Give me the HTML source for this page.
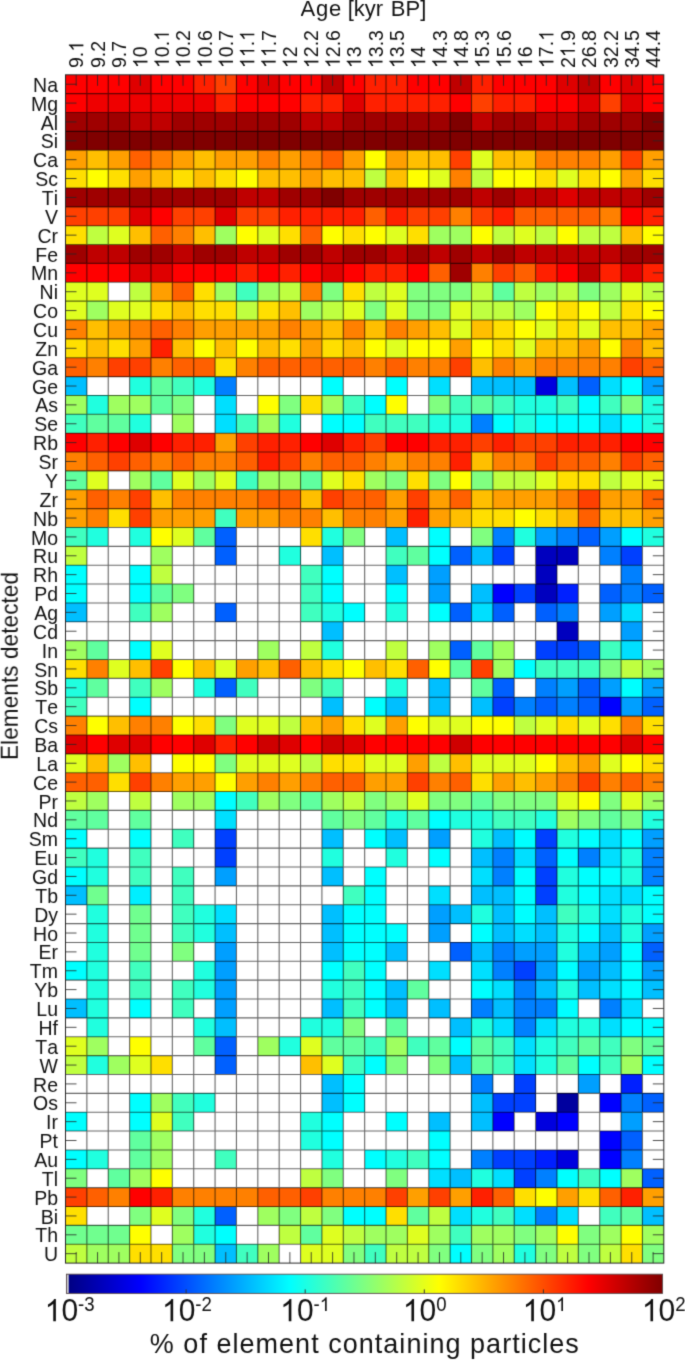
<!DOCTYPE html><html><head><meta charset="utf-8"><style>html,body{margin:0;padding:0;background:#fff;overflow:hidden}svg{display:block;will-change:transform}text{font-family:"Liberation Sans", sans-serif;fill:#111;font-kerning:none}</style></head><body>
<svg width="685" height="1360" viewBox="0 0 685 1360">
<defs><filter id="bl" x="0" y="0" width="685" height="1360" filterUnits="userSpaceOnUse" color-interpolation-filters="sRGB"><feConvolveMatrix order="3" kernelMatrix="0.01917 0.10012 0.01917 0.10012 0.52283 0.10012 0.01917 0.10012 0.01917" edgeMode="duplicate"/></filter></defs>
<rect x="0" y="0" width="685" height="1360" fill="#fff"/>
<g filter="url(#bl)">
<g shape-rendering="crispEdges"><rect x="65.50" y="74.80" width="21.42" height="18.91" fill="#ff0000"/><rect x="86.87" y="74.80" width="21.42" height="18.91" fill="#ff0000"/><rect x="108.24" y="74.80" width="21.42" height="18.91" fill="#ff0000"/><rect x="129.60" y="74.80" width="21.42" height="18.91" fill="#df0000"/><rect x="150.97" y="74.80" width="21.42" height="18.91" fill="#ff0000"/><rect x="172.34" y="74.80" width="21.42" height="18.91" fill="#ff0000"/><rect x="193.71" y="74.80" width="21.42" height="18.91" fill="#ff2000"/><rect x="215.07" y="74.80" width="21.42" height="18.91" fill="#ff4000"/><rect x="236.44" y="74.80" width="21.42" height="18.91" fill="#ff0000"/><rect x="257.81" y="74.80" width="21.42" height="18.91" fill="#df0000"/><rect x="279.18" y="74.80" width="21.42" height="18.91" fill="#ff0000"/><rect x="300.55" y="74.80" width="21.42" height="18.91" fill="#ff0000"/><rect x="321.91" y="74.80" width="21.42" height="18.91" fill="#bf0000"/><rect x="343.28" y="74.80" width="21.42" height="18.91" fill="#ff0000"/><rect x="364.65" y="74.80" width="21.42" height="18.91" fill="#ff2000"/><rect x="386.02" y="74.80" width="21.42" height="18.91" fill="#ff2000"/><rect x="407.39" y="74.80" width="21.42" height="18.91" fill="#ff0000"/><rect x="428.75" y="74.80" width="21.42" height="18.91" fill="#ff0000"/><rect x="450.12" y="74.80" width="21.42" height="18.91" fill="#bf0000"/><rect x="471.49" y="74.80" width="21.42" height="18.91" fill="#ff2000"/><rect x="492.86" y="74.80" width="21.42" height="18.91" fill="#ff0000"/><rect x="514.22" y="74.80" width="21.42" height="18.91" fill="#ff0000"/><rect x="535.59" y="74.80" width="21.42" height="18.91" fill="#ff0000"/><rect x="556.96" y="74.80" width="21.42" height="18.91" fill="#df0000"/><rect x="578.33" y="74.80" width="21.42" height="18.91" fill="#bf0000"/><rect x="599.70" y="74.80" width="21.42" height="18.91" fill="#ff0000"/><rect x="621.06" y="74.80" width="21.42" height="18.91" fill="#df0000"/><rect x="642.43" y="74.80" width="21.42" height="18.91" fill="#ff0000"/><rect x="65.50" y="93.66" width="21.42" height="18.91" fill="#ff0000"/><rect x="86.87" y="93.66" width="21.42" height="18.91" fill="#ef0000"/><rect x="108.24" y="93.66" width="21.42" height="18.91" fill="#ef0000"/><rect x="129.60" y="93.66" width="21.42" height="18.91" fill="#ef0000"/><rect x="150.97" y="93.66" width="21.42" height="18.91" fill="#ef0000"/><rect x="172.34" y="93.66" width="21.42" height="18.91" fill="#ef0000"/><rect x="193.71" y="93.66" width="21.42" height="18.91" fill="#ef0000"/><rect x="215.07" y="93.66" width="21.42" height="18.91" fill="#ff2000"/><rect x="236.44" y="93.66" width="21.42" height="18.91" fill="#ff0000"/><rect x="257.81" y="93.66" width="21.42" height="18.91" fill="#ff0000"/><rect x="279.18" y="93.66" width="21.42" height="18.91" fill="#ff0000"/><rect x="300.55" y="93.66" width="21.42" height="18.91" fill="#ff2000"/><rect x="321.91" y="93.66" width="21.42" height="18.91" fill="#ff2000"/><rect x="343.28" y="93.66" width="21.42" height="18.91" fill="#df0000"/><rect x="364.65" y="93.66" width="21.42" height="18.91" fill="#ff2000"/><rect x="386.02" y="93.66" width="21.42" height="18.91" fill="#ff2000"/><rect x="407.39" y="93.66" width="21.42" height="18.91" fill="#ff2000"/><rect x="428.75" y="93.66" width="21.42" height="18.91" fill="#ff2000"/><rect x="450.12" y="93.66" width="21.42" height="18.91" fill="#ff0000"/><rect x="471.49" y="93.66" width="21.42" height="18.91" fill="#ff4000"/><rect x="492.86" y="93.66" width="21.42" height="18.91" fill="#ff2000"/><rect x="514.22" y="93.66" width="21.42" height="18.91" fill="#ff2000"/><rect x="535.59" y="93.66" width="21.42" height="18.91" fill="#ff0000"/><rect x="556.96" y="93.66" width="21.42" height="18.91" fill="#ff0000"/><rect x="578.33" y="93.66" width="21.42" height="18.91" fill="#df0000"/><rect x="599.70" y="93.66" width="21.42" height="18.91" fill="#ff4000"/><rect x="621.06" y="93.66" width="21.42" height="18.91" fill="#df0000"/><rect x="642.43" y="93.66" width="21.42" height="18.91" fill="#ff0000"/><rect x="65.50" y="112.52" width="21.42" height="18.91" fill="#9f0000"/><rect x="86.87" y="112.52" width="21.42" height="18.91" fill="#9f0000"/><rect x="108.24" y="112.52" width="21.42" height="18.91" fill="#9f0000"/><rect x="129.60" y="112.52" width="21.42" height="18.91" fill="#bf0000"/><rect x="150.97" y="112.52" width="21.42" height="18.91" fill="#bf0000"/><rect x="172.34" y="112.52" width="21.42" height="18.91" fill="#9f0000"/><rect x="193.71" y="112.52" width="21.42" height="18.91" fill="#9f0000"/><rect x="215.07" y="112.52" width="21.42" height="18.91" fill="#9f0000"/><rect x="236.44" y="112.52" width="21.42" height="18.91" fill="#9f0000"/><rect x="257.81" y="112.52" width="21.42" height="18.91" fill="#9f0000"/><rect x="279.18" y="112.52" width="21.42" height="18.91" fill="#9f0000"/><rect x="300.55" y="112.52" width="21.42" height="18.91" fill="#bf0000"/><rect x="321.91" y="112.52" width="21.42" height="18.91" fill="#bf0000"/><rect x="343.28" y="112.52" width="21.42" height="18.91" fill="#9f0000"/><rect x="364.65" y="112.52" width="21.42" height="18.91" fill="#9f0000"/><rect x="386.02" y="112.52" width="21.42" height="18.91" fill="#9f0000"/><rect x="407.39" y="112.52" width="21.42" height="18.91" fill="#9f0000"/><rect x="428.75" y="112.52" width="21.42" height="18.91" fill="#9f0000"/><rect x="450.12" y="112.52" width="21.42" height="18.91" fill="#800000"/><rect x="471.49" y="112.52" width="21.42" height="18.91" fill="#bf0000"/><rect x="492.86" y="112.52" width="21.42" height="18.91" fill="#9f0000"/><rect x="514.22" y="112.52" width="21.42" height="18.91" fill="#9f0000"/><rect x="535.59" y="112.52" width="21.42" height="18.91" fill="#bf0000"/><rect x="556.96" y="112.52" width="21.42" height="18.91" fill="#bf0000"/><rect x="578.33" y="112.52" width="21.42" height="18.91" fill="#9f0000"/><rect x="599.70" y="112.52" width="21.42" height="18.91" fill="#9f0000"/><rect x="621.06" y="112.52" width="21.42" height="18.91" fill="#9f0000"/><rect x="642.43" y="112.52" width="21.42" height="18.91" fill="#800000"/><rect x="65.50" y="131.39" width="21.42" height="18.91" fill="#800000"/><rect x="86.87" y="131.39" width="21.42" height="18.91" fill="#800000"/><rect x="108.24" y="131.39" width="21.42" height="18.91" fill="#800000"/><rect x="129.60" y="131.39" width="21.42" height="18.91" fill="#800000"/><rect x="150.97" y="131.39" width="21.42" height="18.91" fill="#800000"/><rect x="172.34" y="131.39" width="21.42" height="18.91" fill="#800000"/><rect x="193.71" y="131.39" width="21.42" height="18.91" fill="#800000"/><rect x="215.07" y="131.39" width="21.42" height="18.91" fill="#800000"/><rect x="236.44" y="131.39" width="21.42" height="18.91" fill="#800000"/><rect x="257.81" y="131.39" width="21.42" height="18.91" fill="#800000"/><rect x="279.18" y="131.39" width="21.42" height="18.91" fill="#800000"/><rect x="300.55" y="131.39" width="21.42" height="18.91" fill="#800000"/><rect x="321.91" y="131.39" width="21.42" height="18.91" fill="#800000"/><rect x="343.28" y="131.39" width="21.42" height="18.91" fill="#800000"/><rect x="364.65" y="131.39" width="21.42" height="18.91" fill="#800000"/><rect x="386.02" y="131.39" width="21.42" height="18.91" fill="#800000"/><rect x="407.39" y="131.39" width="21.42" height="18.91" fill="#800000"/><rect x="428.75" y="131.39" width="21.42" height="18.91" fill="#800000"/><rect x="450.12" y="131.39" width="21.42" height="18.91" fill="#800000"/><rect x="471.49" y="131.39" width="21.42" height="18.91" fill="#800000"/><rect x="492.86" y="131.39" width="21.42" height="18.91" fill="#800000"/><rect x="514.22" y="131.39" width="21.42" height="18.91" fill="#800000"/><rect x="535.59" y="131.39" width="21.42" height="18.91" fill="#800000"/><rect x="556.96" y="131.39" width="21.42" height="18.91" fill="#800000"/><rect x="578.33" y="131.39" width="21.42" height="18.91" fill="#800000"/><rect x="599.70" y="131.39" width="21.42" height="18.91" fill="#800000"/><rect x="621.06" y="131.39" width="21.42" height="18.91" fill="#800000"/><rect x="642.43" y="131.39" width="21.42" height="18.91" fill="#800000"/><rect x="65.50" y="150.25" width="21.42" height="18.91" fill="#ff9f00"/><rect x="86.87" y="150.25" width="21.42" height="18.91" fill="#ffbf00"/><rect x="108.24" y="150.25" width="21.42" height="18.91" fill="#ff9f00"/><rect x="129.60" y="150.25" width="21.42" height="18.91" fill="#ff6000"/><rect x="150.97" y="150.25" width="21.42" height="18.91" fill="#ff8000"/><rect x="172.34" y="150.25" width="21.42" height="18.91" fill="#ff9f00"/><rect x="193.71" y="150.25" width="21.42" height="18.91" fill="#ffbf00"/><rect x="215.07" y="150.25" width="21.42" height="18.91" fill="#ff9f00"/><rect x="236.44" y="150.25" width="21.42" height="18.91" fill="#ff9f00"/><rect x="257.81" y="150.25" width="21.42" height="18.91" fill="#ff8000"/><rect x="279.18" y="150.25" width="21.42" height="18.91" fill="#ff9f00"/><rect x="300.55" y="150.25" width="21.42" height="18.91" fill="#ff8000"/><rect x="321.91" y="150.25" width="21.42" height="18.91" fill="#ff6000"/><rect x="343.28" y="150.25" width="21.42" height="18.91" fill="#ff9f00"/><rect x="364.65" y="150.25" width="21.42" height="18.91" fill="#ffff00"/><rect x="386.02" y="150.25" width="21.42" height="18.91" fill="#ff9f00"/><rect x="407.39" y="150.25" width="21.42" height="18.91" fill="#ffbf00"/><rect x="428.75" y="150.25" width="21.42" height="18.91" fill="#ffbf00"/><rect x="450.12" y="150.25" width="21.42" height="18.91" fill="#ff4000"/><rect x="471.49" y="150.25" width="21.42" height="18.91" fill="#dfff20"/><rect x="492.86" y="150.25" width="21.42" height="18.91" fill="#ffbf00"/><rect x="514.22" y="150.25" width="21.42" height="18.91" fill="#ffbf00"/><rect x="535.59" y="150.25" width="21.42" height="18.91" fill="#ff8000"/><rect x="556.96" y="150.25" width="21.42" height="18.91" fill="#ff8000"/><rect x="578.33" y="150.25" width="21.42" height="18.91" fill="#ff8000"/><rect x="599.70" y="150.25" width="21.42" height="18.91" fill="#ff9f00"/><rect x="621.06" y="150.25" width="21.42" height="18.91" fill="#ff4000"/><rect x="642.43" y="150.25" width="21.42" height="18.91" fill="#ff9f00"/><rect x="65.50" y="169.11" width="21.42" height="18.91" fill="#ffdf00"/><rect x="86.87" y="169.11" width="21.42" height="18.91" fill="#ffff00"/><rect x="108.24" y="169.11" width="21.42" height="18.91" fill="#ffdf00"/><rect x="129.60" y="169.11" width="21.42" height="18.91" fill="#ff9f00"/><rect x="150.97" y="169.11" width="21.42" height="18.91" fill="#ffbf00"/><rect x="172.34" y="169.11" width="21.42" height="18.91" fill="#ffdf00"/><rect x="193.71" y="169.11" width="21.42" height="18.91" fill="#ffbf00"/><rect x="215.07" y="169.11" width="21.42" height="18.91" fill="#ffdf00"/><rect x="236.44" y="169.11" width="21.42" height="18.91" fill="#ffff00"/><rect x="257.81" y="169.11" width="21.42" height="18.91" fill="#ffbf00"/><rect x="279.18" y="169.11" width="21.42" height="18.91" fill="#ffbf00"/><rect x="300.55" y="169.11" width="21.42" height="18.91" fill="#ff9f00"/><rect x="321.91" y="169.11" width="21.42" height="18.91" fill="#ffbf00"/><rect x="343.28" y="169.11" width="21.42" height="18.91" fill="#ffbf00"/><rect x="364.65" y="169.11" width="21.42" height="18.91" fill="#bfff40"/><rect x="386.02" y="169.11" width="21.42" height="18.91" fill="#ffbf00"/><rect x="407.39" y="169.11" width="21.42" height="18.91" fill="#ffff00"/><rect x="428.75" y="169.11" width="21.42" height="18.91" fill="#dfff20"/><rect x="450.12" y="169.11" width="21.42" height="18.91" fill="#ff8000"/><rect x="471.49" y="169.11" width="21.42" height="18.91" fill="#bfff40"/><rect x="492.86" y="169.11" width="21.42" height="18.91" fill="#ffff00"/><rect x="514.22" y="169.11" width="21.42" height="18.91" fill="#ffff00"/><rect x="535.59" y="169.11" width="21.42" height="18.91" fill="#ffdf00"/><rect x="556.96" y="169.11" width="21.42" height="18.91" fill="#dfff20"/><rect x="578.33" y="169.11" width="21.42" height="18.91" fill="#ffdf00"/><rect x="599.70" y="169.11" width="21.42" height="18.91" fill="#ffff00"/><rect x="621.06" y="169.11" width="21.42" height="18.91" fill="#ff9f00"/><rect x="642.43" y="169.11" width="21.42" height="18.91" fill="#ffdf00"/><rect x="65.50" y="187.97" width="21.42" height="18.91" fill="#9f0000"/><rect x="86.87" y="187.97" width="21.42" height="18.91" fill="#9f0000"/><rect x="108.24" y="187.97" width="21.42" height="18.91" fill="#9f0000"/><rect x="129.60" y="187.97" width="21.42" height="18.91" fill="#9f0000"/><rect x="150.97" y="187.97" width="21.42" height="18.91" fill="#9f0000"/><rect x="172.34" y="187.97" width="21.42" height="18.91" fill="#9f0000"/><rect x="193.71" y="187.97" width="21.42" height="18.91" fill="#9f0000"/><rect x="215.07" y="187.97" width="21.42" height="18.91" fill="#9f0000"/><rect x="236.44" y="187.97" width="21.42" height="18.91" fill="#bf0000"/><rect x="257.81" y="187.97" width="21.42" height="18.91" fill="#bf0000"/><rect x="279.18" y="187.97" width="21.42" height="18.91" fill="#9f0000"/><rect x="300.55" y="187.97" width="21.42" height="18.91" fill="#9f0000"/><rect x="321.91" y="187.97" width="21.42" height="18.91" fill="#800000"/><rect x="343.28" y="187.97" width="21.42" height="18.91" fill="#9f0000"/><rect x="364.65" y="187.97" width="21.42" height="18.91" fill="#9f0000"/><rect x="386.02" y="187.97" width="21.42" height="18.91" fill="#9f0000"/><rect x="407.39" y="187.97" width="21.42" height="18.91" fill="#9f0000"/><rect x="428.75" y="187.97" width="21.42" height="18.91" fill="#9f0000"/><rect x="450.12" y="187.97" width="21.42" height="18.91" fill="#9f0000"/><rect x="471.49" y="187.97" width="21.42" height="18.91" fill="#bf0000"/><rect x="492.86" y="187.97" width="21.42" height="18.91" fill="#9f0000"/><rect x="514.22" y="187.97" width="21.42" height="18.91" fill="#bf0000"/><rect x="535.59" y="187.97" width="21.42" height="18.91" fill="#bf0000"/><rect x="556.96" y="187.97" width="21.42" height="18.91" fill="#df0000"/><rect x="578.33" y="187.97" width="21.42" height="18.91" fill="#bf0000"/><rect x="599.70" y="187.97" width="21.42" height="18.91" fill="#bf0000"/><rect x="621.06" y="187.97" width="21.42" height="18.91" fill="#bf0000"/><rect x="642.43" y="187.97" width="21.42" height="18.91" fill="#9f0000"/><rect x="65.50" y="206.83" width="21.42" height="18.91" fill="#ff4000"/><rect x="86.87" y="206.83" width="21.42" height="18.91" fill="#ff4000"/><rect x="108.24" y="206.83" width="21.42" height="18.91" fill="#ff4000"/><rect x="129.60" y="206.83" width="21.42" height="18.91" fill="#df0000"/><rect x="150.97" y="206.83" width="21.42" height="18.91" fill="#ff0000"/><rect x="172.34" y="206.83" width="21.42" height="18.91" fill="#ff4000"/><rect x="193.71" y="206.83" width="21.42" height="18.91" fill="#ff4000"/><rect x="215.07" y="206.83" width="21.42" height="18.91" fill="#df0000"/><rect x="236.44" y="206.83" width="21.42" height="18.91" fill="#ff4000"/><rect x="257.81" y="206.83" width="21.42" height="18.91" fill="#ff4000"/><rect x="279.18" y="206.83" width="21.42" height="18.91" fill="#ff2000"/><rect x="300.55" y="206.83" width="21.42" height="18.91" fill="#ff2000"/><rect x="321.91" y="206.83" width="21.42" height="18.91" fill="#ff2000"/><rect x="343.28" y="206.83" width="21.42" height="18.91" fill="#ff2000"/><rect x="364.65" y="206.83" width="21.42" height="18.91" fill="#ff6000"/><rect x="386.02" y="206.83" width="21.42" height="18.91" fill="#ff2000"/><rect x="407.39" y="206.83" width="21.42" height="18.91" fill="#ff4000"/><rect x="428.75" y="206.83" width="21.42" height="18.91" fill="#ff4000"/><rect x="450.12" y="206.83" width="21.42" height="18.91" fill="#ff8000"/><rect x="471.49" y="206.83" width="21.42" height="18.91" fill="#ff4000"/><rect x="492.86" y="206.83" width="21.42" height="18.91" fill="#ff2000"/><rect x="514.22" y="206.83" width="21.42" height="18.91" fill="#ff6000"/><rect x="535.59" y="206.83" width="21.42" height="18.91" fill="#ff6000"/><rect x="556.96" y="206.83" width="21.42" height="18.91" fill="#ff6000"/><rect x="578.33" y="206.83" width="21.42" height="18.91" fill="#ff6000"/><rect x="599.70" y="206.83" width="21.42" height="18.91" fill="#ff8000"/><rect x="621.06" y="206.83" width="21.42" height="18.91" fill="#ff0000"/><rect x="642.43" y="206.83" width="21.42" height="18.91" fill="#ff2000"/><rect x="65.50" y="225.70" width="21.42" height="18.91" fill="#ffdf00"/><rect x="86.87" y="225.70" width="21.42" height="18.91" fill="#bfff40"/><rect x="108.24" y="225.70" width="21.42" height="18.91" fill="#dfff20"/><rect x="129.60" y="225.70" width="21.42" height="18.91" fill="#ffbf00"/><rect x="150.97" y="225.70" width="21.42" height="18.91" fill="#ff6000"/><rect x="172.34" y="225.70" width="21.42" height="18.91" fill="#ff8000"/><rect x="193.71" y="225.70" width="21.42" height="18.91" fill="#ffbf00"/><rect x="215.07" y="225.70" width="21.42" height="18.91" fill="#9fff60"/><rect x="236.44" y="225.70" width="21.42" height="18.91" fill="#ffff00"/><rect x="257.81" y="225.70" width="21.42" height="18.91" fill="#dfff20"/><rect x="279.18" y="225.70" width="21.42" height="18.91" fill="#ffdf00"/><rect x="300.55" y="225.70" width="21.42" height="18.91" fill="#ff6000"/><rect x="321.91" y="225.70" width="21.42" height="18.91" fill="#ffff00"/><rect x="343.28" y="225.70" width="21.42" height="18.91" fill="#ffdf00"/><rect x="364.65" y="225.70" width="21.42" height="18.91" fill="#ffff00"/><rect x="386.02" y="225.70" width="21.42" height="18.91" fill="#dfff20"/><rect x="407.39" y="225.70" width="21.42" height="18.91" fill="#ffdf00"/><rect x="428.75" y="225.70" width="21.42" height="18.91" fill="#9fff60"/><rect x="450.12" y="225.70" width="21.42" height="18.91" fill="#9fff60"/><rect x="471.49" y="225.70" width="21.42" height="18.91" fill="#ffff00"/><rect x="492.86" y="225.70" width="21.42" height="18.91" fill="#bfff40"/><rect x="514.22" y="225.70" width="21.42" height="18.91" fill="#dfff20"/><rect x="535.59" y="225.70" width="21.42" height="18.91" fill="#bfff40"/><rect x="556.96" y="225.70" width="21.42" height="18.91" fill="#ffff00"/><rect x="578.33" y="225.70" width="21.42" height="18.91" fill="#bfff40"/><rect x="599.70" y="225.70" width="21.42" height="18.91" fill="#bfff40"/><rect x="621.06" y="225.70" width="21.42" height="18.91" fill="#ffbf00"/><rect x="642.43" y="225.70" width="21.42" height="18.91" fill="#ffff00"/><rect x="65.50" y="244.56" width="21.42" height="18.91" fill="#9f0000"/><rect x="86.87" y="244.56" width="21.42" height="18.91" fill="#bf0000"/><rect x="108.24" y="244.56" width="21.42" height="18.91" fill="#bf0000"/><rect x="129.60" y="244.56" width="21.42" height="18.91" fill="#9f0000"/><rect x="150.97" y="244.56" width="21.42" height="18.91" fill="#9f0000"/><rect x="172.34" y="244.56" width="21.42" height="18.91" fill="#bf0000"/><rect x="193.71" y="244.56" width="21.42" height="18.91" fill="#9f0000"/><rect x="215.07" y="244.56" width="21.42" height="18.91" fill="#9f0000"/><rect x="236.44" y="244.56" width="21.42" height="18.91" fill="#bf0000"/><rect x="257.81" y="244.56" width="21.42" height="18.91" fill="#bf0000"/><rect x="279.18" y="244.56" width="21.42" height="18.91" fill="#9f0000"/><rect x="300.55" y="244.56" width="21.42" height="18.91" fill="#9f0000"/><rect x="321.91" y="244.56" width="21.42" height="18.91" fill="#bf0000"/><rect x="343.28" y="244.56" width="21.42" height="18.91" fill="#9f0000"/><rect x="364.65" y="244.56" width="21.42" height="18.91" fill="#9f0000"/><rect x="386.02" y="244.56" width="21.42" height="18.91" fill="#bf0000"/><rect x="407.39" y="244.56" width="21.42" height="18.91" fill="#9f0000"/><rect x="428.75" y="244.56" width="21.42" height="18.91" fill="#bf0000"/><rect x="450.12" y="244.56" width="21.42" height="18.91" fill="#9f0000"/><rect x="471.49" y="244.56" width="21.42" height="18.91" fill="#bf0000"/><rect x="492.86" y="244.56" width="21.42" height="18.91" fill="#9f0000"/><rect x="514.22" y="244.56" width="21.42" height="18.91" fill="#bf0000"/><rect x="535.59" y="244.56" width="21.42" height="18.91" fill="#bf0000"/><rect x="556.96" y="244.56" width="21.42" height="18.91" fill="#bf0000"/><rect x="578.33" y="244.56" width="21.42" height="18.91" fill="#bf0000"/><rect x="599.70" y="244.56" width="21.42" height="18.91" fill="#bf0000"/><rect x="621.06" y="244.56" width="21.42" height="18.91" fill="#9f0000"/><rect x="642.43" y="244.56" width="21.42" height="18.91" fill="#9f0000"/><rect x="65.50" y="263.42" width="21.42" height="18.91" fill="#ff0000"/><rect x="86.87" y="263.42" width="21.42" height="18.91" fill="#ff0000"/><rect x="108.24" y="263.42" width="21.42" height="18.91" fill="#ff0000"/><rect x="129.60" y="263.42" width="21.42" height="18.91" fill="#df0000"/><rect x="150.97" y="263.42" width="21.42" height="18.91" fill="#df0000"/><rect x="172.34" y="263.42" width="21.42" height="18.91" fill="#ff0000"/><rect x="193.71" y="263.42" width="21.42" height="18.91" fill="#ff0000"/><rect x="215.07" y="263.42" width="21.42" height="18.91" fill="#ff0000"/><rect x="236.44" y="263.42" width="21.42" height="18.91" fill="#ff2000"/><rect x="257.81" y="263.42" width="21.42" height="18.91" fill="#ff0000"/><rect x="279.18" y="263.42" width="21.42" height="18.91" fill="#ff2000"/><rect x="300.55" y="263.42" width="21.42" height="18.91" fill="#ff0000"/><rect x="321.91" y="263.42" width="21.42" height="18.91" fill="#df0000"/><rect x="343.28" y="263.42" width="21.42" height="18.91" fill="#ff0000"/><rect x="364.65" y="263.42" width="21.42" height="18.91" fill="#ff2000"/><rect x="386.02" y="263.42" width="21.42" height="18.91" fill="#ff2000"/><rect x="407.39" y="263.42" width="21.42" height="18.91" fill="#ff0000"/><rect x="428.75" y="263.42" width="21.42" height="18.91" fill="#ff6000"/><rect x="450.12" y="263.42" width="21.42" height="18.91" fill="#9f0000"/><rect x="471.49" y="263.42" width="21.42" height="18.91" fill="#ff8000"/><rect x="492.86" y="263.42" width="21.42" height="18.91" fill="#ff4000"/><rect x="514.22" y="263.42" width="21.42" height="18.91" fill="#ff6000"/><rect x="535.59" y="263.42" width="21.42" height="18.91" fill="#ff2000"/><rect x="556.96" y="263.42" width="21.42" height="18.91" fill="#ff0000"/><rect x="578.33" y="263.42" width="21.42" height="18.91" fill="#bf0000"/><rect x="599.70" y="263.42" width="21.42" height="18.91" fill="#ff2000"/><rect x="621.06" y="263.42" width="21.42" height="18.91" fill="#df0000"/><rect x="642.43" y="263.42" width="21.42" height="18.91" fill="#ff2000"/><rect x="65.50" y="282.28" width="21.42" height="18.91" fill="#dfff20"/><rect x="86.87" y="282.28" width="21.42" height="18.91" fill="#dfff20"/><rect x="108.24" y="282.28" width="21.42" height="18.91" fill="#ffffff"/><rect x="129.60" y="282.28" width="21.42" height="18.91" fill="#bfff40"/><rect x="150.97" y="282.28" width="21.42" height="18.91" fill="#ff9f00"/><rect x="172.34" y="282.28" width="21.42" height="18.91" fill="#ff6000"/><rect x="193.71" y="282.28" width="21.42" height="18.91" fill="#ffdf00"/><rect x="215.07" y="282.28" width="21.42" height="18.91" fill="#9fff60"/><rect x="236.44" y="282.28" width="21.42" height="18.91" fill="#40ffbf"/><rect x="257.81" y="282.28" width="21.42" height="18.91" fill="#9fff60"/><rect x="279.18" y="282.28" width="21.42" height="18.91" fill="#bfff40"/><rect x="300.55" y="282.28" width="21.42" height="18.91" fill="#ff8000"/><rect x="321.91" y="282.28" width="21.42" height="18.91" fill="#80ff80"/><rect x="343.28" y="282.28" width="21.42" height="18.91" fill="#ffdf00"/><rect x="364.65" y="282.28" width="21.42" height="18.91" fill="#bfff40"/><rect x="386.02" y="282.28" width="21.42" height="18.91" fill="#dfff20"/><rect x="407.39" y="282.28" width="21.42" height="18.91" fill="#80ff80"/><rect x="428.75" y="282.28" width="21.42" height="18.91" fill="#80ff80"/><rect x="450.12" y="282.28" width="21.42" height="18.91" fill="#80ff80"/><rect x="471.49" y="282.28" width="21.42" height="18.91" fill="#bfff40"/><rect x="492.86" y="282.28" width="21.42" height="18.91" fill="#60ff9f"/><rect x="514.22" y="282.28" width="21.42" height="18.91" fill="#bfff40"/><rect x="535.59" y="282.28" width="21.42" height="18.91" fill="#9fff60"/><rect x="556.96" y="282.28" width="21.42" height="18.91" fill="#bfff40"/><rect x="578.33" y="282.28" width="21.42" height="18.91" fill="#80ff80"/><rect x="599.70" y="282.28" width="21.42" height="18.91" fill="#9fff60"/><rect x="621.06" y="282.28" width="21.42" height="18.91" fill="#dfff20"/><rect x="642.43" y="282.28" width="21.42" height="18.91" fill="#bfff40"/><rect x="65.50" y="301.14" width="21.42" height="18.91" fill="#dfff20"/><rect x="86.87" y="301.14" width="21.42" height="18.91" fill="#9fff60"/><rect x="108.24" y="301.14" width="21.42" height="18.91" fill="#dfff20"/><rect x="129.60" y="301.14" width="21.42" height="18.91" fill="#dfff20"/><rect x="150.97" y="301.14" width="21.42" height="18.91" fill="#ffdf00"/><rect x="172.34" y="301.14" width="21.42" height="18.91" fill="#ffbf00"/><rect x="193.71" y="301.14" width="21.42" height="18.91" fill="#ffdf00"/><rect x="215.07" y="301.14" width="21.42" height="18.91" fill="#ffdf00"/><rect x="236.44" y="301.14" width="21.42" height="18.91" fill="#bfff40"/><rect x="257.81" y="301.14" width="21.42" height="18.91" fill="#ffdf00"/><rect x="279.18" y="301.14" width="21.42" height="18.91" fill="#ffbf00"/><rect x="300.55" y="301.14" width="21.42" height="18.91" fill="#9fff60"/><rect x="321.91" y="301.14" width="21.42" height="18.91" fill="#bfff40"/><rect x="343.28" y="301.14" width="21.42" height="18.91" fill="#dfff20"/><rect x="364.65" y="301.14" width="21.42" height="18.91" fill="#80ff80"/><rect x="386.02" y="301.14" width="21.42" height="18.91" fill="#dfff20"/><rect x="407.39" y="301.14" width="21.42" height="18.91" fill="#80ff80"/><rect x="428.75" y="301.14" width="21.42" height="18.91" fill="#80ff80"/><rect x="450.12" y="301.14" width="21.42" height="18.91" fill="#dfff20"/><rect x="471.49" y="301.14" width="21.42" height="18.91" fill="#bfff40"/><rect x="492.86" y="301.14" width="21.42" height="18.91" fill="#bfff40"/><rect x="514.22" y="301.14" width="21.42" height="18.91" fill="#9fff60"/><rect x="535.59" y="301.14" width="21.42" height="18.91" fill="#ffff00"/><rect x="556.96" y="301.14" width="21.42" height="18.91" fill="#ffdf00"/><rect x="578.33" y="301.14" width="21.42" height="18.91" fill="#ffff00"/><rect x="599.70" y="301.14" width="21.42" height="18.91" fill="#bfff40"/><rect x="621.06" y="301.14" width="21.42" height="18.91" fill="#ffdf00"/><rect x="642.43" y="301.14" width="21.42" height="18.91" fill="#ffff00"/><rect x="65.50" y="320.00" width="21.42" height="18.91" fill="#ff8000"/><rect x="86.87" y="320.00" width="21.42" height="18.91" fill="#ffbf00"/><rect x="108.24" y="320.00" width="21.42" height="18.91" fill="#ff9f00"/><rect x="129.60" y="320.00" width="21.42" height="18.91" fill="#ff8000"/><rect x="150.97" y="320.00" width="21.42" height="18.91" fill="#ff6000"/><rect x="172.34" y="320.00" width="21.42" height="18.91" fill="#ff8000"/><rect x="193.71" y="320.00" width="21.42" height="18.91" fill="#ff9f00"/><rect x="215.07" y="320.00" width="21.42" height="18.91" fill="#ff9f00"/><rect x="236.44" y="320.00" width="21.42" height="18.91" fill="#ff9f00"/><rect x="257.81" y="320.00" width="21.42" height="18.91" fill="#ff9f00"/><rect x="279.18" y="320.00" width="21.42" height="18.91" fill="#ff8000"/><rect x="300.55" y="320.00" width="21.42" height="18.91" fill="#ff9f00"/><rect x="321.91" y="320.00" width="21.42" height="18.91" fill="#ffbf00"/><rect x="343.28" y="320.00" width="21.42" height="18.91" fill="#ff8000"/><rect x="364.65" y="320.00" width="21.42" height="18.91" fill="#ffbf00"/><rect x="386.02" y="320.00" width="21.42" height="18.91" fill="#ff8000"/><rect x="407.39" y="320.00" width="21.42" height="18.91" fill="#ff9f00"/><rect x="428.75" y="320.00" width="21.42" height="18.91" fill="#ffbf00"/><rect x="450.12" y="320.00" width="21.42" height="18.91" fill="#dfff20"/><rect x="471.49" y="320.00" width="21.42" height="18.91" fill="#ffbf00"/><rect x="492.86" y="320.00" width="21.42" height="18.91" fill="#ffdf00"/><rect x="514.22" y="320.00" width="21.42" height="18.91" fill="#ffff00"/><rect x="535.59" y="320.00" width="21.42" height="18.91" fill="#dfff20"/><rect x="556.96" y="320.00" width="21.42" height="18.91" fill="#ffdf00"/><rect x="578.33" y="320.00" width="21.42" height="18.91" fill="#dfff20"/><rect x="599.70" y="320.00" width="21.42" height="18.91" fill="#ffbf00"/><rect x="621.06" y="320.00" width="21.42" height="18.91" fill="#ffbf00"/><rect x="642.43" y="320.00" width="21.42" height="18.91" fill="#ff9f00"/><rect x="65.50" y="338.87" width="21.42" height="18.91" fill="#ffdf00"/><rect x="86.87" y="338.87" width="21.42" height="18.91" fill="#ffbf00"/><rect x="108.24" y="338.87" width="21.42" height="18.91" fill="#ffdf00"/><rect x="129.60" y="338.87" width="21.42" height="18.91" fill="#ff9f00"/><rect x="150.97" y="338.87" width="21.42" height="18.91" fill="#ff2000"/><rect x="172.34" y="338.87" width="21.42" height="18.91" fill="#ffbf00"/><rect x="193.71" y="338.87" width="21.42" height="18.91" fill="#ffff00"/><rect x="215.07" y="338.87" width="21.42" height="18.91" fill="#ffbf00"/><rect x="236.44" y="338.87" width="21.42" height="18.91" fill="#ffff00"/><rect x="257.81" y="338.87" width="21.42" height="18.91" fill="#ffbf00"/><rect x="279.18" y="338.87" width="21.42" height="18.91" fill="#ffdf00"/><rect x="300.55" y="338.87" width="21.42" height="18.91" fill="#ff9f00"/><rect x="321.91" y="338.87" width="21.42" height="18.91" fill="#ffdf00"/><rect x="343.28" y="338.87" width="21.42" height="18.91" fill="#ffbf00"/><rect x="364.65" y="338.87" width="21.42" height="18.91" fill="#ffff00"/><rect x="386.02" y="338.87" width="21.42" height="18.91" fill="#dfff20"/><rect x="407.39" y="338.87" width="21.42" height="18.91" fill="#ffff00"/><rect x="428.75" y="338.87" width="21.42" height="18.91" fill="#ffff00"/><rect x="450.12" y="338.87" width="21.42" height="18.91" fill="#ff9f00"/><rect x="471.49" y="338.87" width="21.42" height="18.91" fill="#ffff00"/><rect x="492.86" y="338.87" width="21.42" height="18.91" fill="#ffdf00"/><rect x="514.22" y="338.87" width="21.42" height="18.91" fill="#dfff20"/><rect x="535.59" y="338.87" width="21.42" height="18.91" fill="#ffbf00"/><rect x="556.96" y="338.87" width="21.42" height="18.91" fill="#ffbf00"/><rect x="578.33" y="338.87" width="21.42" height="18.91" fill="#ff9f00"/><rect x="599.70" y="338.87" width="21.42" height="18.91" fill="#ffff00"/><rect x="621.06" y="338.87" width="21.42" height="18.91" fill="#ff8000"/><rect x="642.43" y="338.87" width="21.42" height="18.91" fill="#ffbf00"/><rect x="65.50" y="357.73" width="21.42" height="18.91" fill="#ff6000"/><rect x="86.87" y="357.73" width="21.42" height="18.91" fill="#ff8000"/><rect x="108.24" y="357.73" width="21.42" height="18.91" fill="#ff4000"/><rect x="129.60" y="357.73" width="21.42" height="18.91" fill="#ff4000"/><rect x="150.97" y="357.73" width="21.42" height="18.91" fill="#ff8000"/><rect x="172.34" y="357.73" width="21.42" height="18.91" fill="#ff6000"/><rect x="193.71" y="357.73" width="21.42" height="18.91" fill="#ff6000"/><rect x="215.07" y="357.73" width="21.42" height="18.91" fill="#ffdf00"/><rect x="236.44" y="357.73" width="21.42" height="18.91" fill="#ff8000"/><rect x="257.81" y="357.73" width="21.42" height="18.91" fill="#ff6000"/><rect x="279.18" y="357.73" width="21.42" height="18.91" fill="#ff6000"/><rect x="300.55" y="357.73" width="21.42" height="18.91" fill="#ff6000"/><rect x="321.91" y="357.73" width="21.42" height="18.91" fill="#ff6000"/><rect x="343.28" y="357.73" width="21.42" height="18.91" fill="#ff6000"/><rect x="364.65" y="357.73" width="21.42" height="18.91" fill="#ff8000"/><rect x="386.02" y="357.73" width="21.42" height="18.91" fill="#ff6000"/><rect x="407.39" y="357.73" width="21.42" height="18.91" fill="#ff8000"/><rect x="428.75" y="357.73" width="21.42" height="18.91" fill="#ff8000"/><rect x="450.12" y="357.73" width="21.42" height="18.91" fill="#ff4000"/><rect x="471.49" y="357.73" width="21.42" height="18.91" fill="#ffbf00"/><rect x="492.86" y="357.73" width="21.42" height="18.91" fill="#ff8000"/><rect x="514.22" y="357.73" width="21.42" height="18.91" fill="#ff9f00"/><rect x="535.59" y="357.73" width="21.42" height="18.91" fill="#ff8000"/><rect x="556.96" y="357.73" width="21.42" height="18.91" fill="#ff8000"/><rect x="578.33" y="357.73" width="21.42" height="18.91" fill="#ff8000"/><rect x="599.70" y="357.73" width="21.42" height="18.91" fill="#ff8000"/><rect x="621.06" y="357.73" width="21.42" height="18.91" fill="#ff4000"/><rect x="642.43" y="357.73" width="21.42" height="18.91" fill="#ff6000"/><rect x="65.50" y="376.59" width="21.42" height="18.91" fill="#00bfff"/><rect x="86.87" y="376.59" width="21.42" height="18.91" fill="#ffffff"/><rect x="108.24" y="376.59" width="21.42" height="18.91" fill="#ffffff"/><rect x="129.60" y="376.59" width="21.42" height="18.91" fill="#20ffdf"/><rect x="150.97" y="376.59" width="21.42" height="18.91" fill="#60ff9f"/><rect x="172.34" y="376.59" width="21.42" height="18.91" fill="#40ffbf"/><rect x="193.71" y="376.59" width="21.42" height="18.91" fill="#20ffdf"/><rect x="215.07" y="376.59" width="21.42" height="18.91" fill="#0080ff"/><rect x="236.44" y="376.59" width="21.42" height="18.91" fill="#ffffff"/><rect x="257.81" y="376.59" width="21.42" height="18.91" fill="#ffffff"/><rect x="279.18" y="376.59" width="21.42" height="18.91" fill="#ffffff"/><rect x="300.55" y="376.59" width="21.42" height="18.91" fill="#ffffff"/><rect x="321.91" y="376.59" width="21.42" height="18.91" fill="#00ffff"/><rect x="343.28" y="376.59" width="21.42" height="18.91" fill="#ffffff"/><rect x="364.65" y="376.59" width="21.42" height="18.91" fill="#ffffff"/><rect x="386.02" y="376.59" width="21.42" height="18.91" fill="#00ffff"/><rect x="407.39" y="376.59" width="21.42" height="18.91" fill="#ffffff"/><rect x="428.75" y="376.59" width="21.42" height="18.91" fill="#00dfff"/><rect x="450.12" y="376.59" width="21.42" height="18.91" fill="#ffffff"/><rect x="471.49" y="376.59" width="21.42" height="18.91" fill="#00bfff"/><rect x="492.86" y="376.59" width="21.42" height="18.91" fill="#00bfff"/><rect x="514.22" y="376.59" width="21.42" height="18.91" fill="#00bfff"/><rect x="535.59" y="376.59" width="21.42" height="18.91" fill="#0000df"/><rect x="556.96" y="376.59" width="21.42" height="18.91" fill="#00bfff"/><rect x="578.33" y="376.59" width="21.42" height="18.91" fill="#0060ff"/><rect x="599.70" y="376.59" width="21.42" height="18.91" fill="#00dfff"/><rect x="621.06" y="376.59" width="21.42" height="18.91" fill="#00ffff"/><rect x="642.43" y="376.59" width="21.42" height="18.91" fill="#009fff"/><rect x="65.50" y="395.45" width="21.42" height="18.91" fill="#9fff60"/><rect x="86.87" y="395.45" width="21.42" height="18.91" fill="#20ffdf"/><rect x="108.24" y="395.45" width="21.42" height="18.91" fill="#9fff60"/><rect x="129.60" y="395.45" width="21.42" height="18.91" fill="#9fff60"/><rect x="150.97" y="395.45" width="21.42" height="18.91" fill="#60ff9f"/><rect x="172.34" y="395.45" width="21.42" height="18.91" fill="#80ff80"/><rect x="193.71" y="395.45" width="21.42" height="18.91" fill="#ffffff"/><rect x="215.07" y="395.45" width="21.42" height="18.91" fill="#00dfff"/><rect x="236.44" y="395.45" width="21.42" height="18.91" fill="#ffffff"/><rect x="257.81" y="395.45" width="21.42" height="18.91" fill="#ffff00"/><rect x="279.18" y="395.45" width="21.42" height="18.91" fill="#80ff80"/><rect x="300.55" y="395.45" width="21.42" height="18.91" fill="#ffdf00"/><rect x="321.91" y="395.45" width="21.42" height="18.91" fill="#9fff60"/><rect x="343.28" y="395.45" width="21.42" height="18.91" fill="#40ffbf"/><rect x="364.65" y="395.45" width="21.42" height="18.91" fill="#00ffff"/><rect x="386.02" y="395.45" width="21.42" height="18.91" fill="#ffff00"/><rect x="407.39" y="395.45" width="21.42" height="18.91" fill="#ffffff"/><rect x="428.75" y="395.45" width="21.42" height="18.91" fill="#80ff80"/><rect x="450.12" y="395.45" width="21.42" height="18.91" fill="#40ffbf"/><rect x="471.49" y="395.45" width="21.42" height="18.91" fill="#60ff9f"/><rect x="492.86" y="395.45" width="21.42" height="18.91" fill="#40ffbf"/><rect x="514.22" y="395.45" width="21.42" height="18.91" fill="#20ffdf"/><rect x="535.59" y="395.45" width="21.42" height="18.91" fill="#20ffdf"/><rect x="556.96" y="395.45" width="21.42" height="18.91" fill="#40ffbf"/><rect x="578.33" y="395.45" width="21.42" height="18.91" fill="#00ffff"/><rect x="599.70" y="395.45" width="21.42" height="18.91" fill="#40ffbf"/><rect x="621.06" y="395.45" width="21.42" height="18.91" fill="#80ff80"/><rect x="642.43" y="395.45" width="21.42" height="18.91" fill="#20ffdf"/><rect x="65.50" y="414.31" width="21.42" height="18.91" fill="#40ffbf"/><rect x="86.87" y="414.31" width="21.42" height="18.91" fill="#60ff9f"/><rect x="108.24" y="414.31" width="21.42" height="18.91" fill="#60ff9f"/><rect x="129.60" y="414.31" width="21.42" height="18.91" fill="#20ffdf"/><rect x="150.97" y="414.31" width="21.42" height="18.91" fill="#ffffff"/><rect x="172.34" y="414.31" width="21.42" height="18.91" fill="#9fff60"/><rect x="193.71" y="414.31" width="21.42" height="18.91" fill="#ffffff"/><rect x="215.07" y="414.31" width="21.42" height="18.91" fill="#00dfff"/><rect x="236.44" y="414.31" width="21.42" height="18.91" fill="#40ffbf"/><rect x="257.81" y="414.31" width="21.42" height="18.91" fill="#9fff60"/><rect x="279.18" y="414.31" width="21.42" height="18.91" fill="#20ffdf"/><rect x="300.55" y="414.31" width="21.42" height="18.91" fill="#ffffff"/><rect x="321.91" y="414.31" width="21.42" height="18.91" fill="#00ffff"/><rect x="343.28" y="414.31" width="21.42" height="18.91" fill="#00ffff"/><rect x="364.65" y="414.31" width="21.42" height="18.91" fill="#40ffbf"/><rect x="386.02" y="414.31" width="21.42" height="18.91" fill="#40ffbf"/><rect x="407.39" y="414.31" width="21.42" height="18.91" fill="#40ffbf"/><rect x="428.75" y="414.31" width="21.42" height="18.91" fill="#20ffdf"/><rect x="450.12" y="414.31" width="21.42" height="18.91" fill="#20ffdf"/><rect x="471.49" y="414.31" width="21.42" height="18.91" fill="#0080ff"/><rect x="492.86" y="414.31" width="21.42" height="18.91" fill="#00ffff"/><rect x="514.22" y="414.31" width="21.42" height="18.91" fill="#20ffdf"/><rect x="535.59" y="414.31" width="21.42" height="18.91" fill="#00ffff"/><rect x="556.96" y="414.31" width="21.42" height="18.91" fill="#00ffff"/><rect x="578.33" y="414.31" width="21.42" height="18.91" fill="#00ffff"/><rect x="599.70" y="414.31" width="21.42" height="18.91" fill="#00dfff"/><rect x="621.06" y="414.31" width="21.42" height="18.91" fill="#00ffff"/><rect x="642.43" y="414.31" width="21.42" height="18.91" fill="#20ffdf"/><rect x="65.50" y="433.18" width="21.42" height="18.91" fill="#ff0000"/><rect x="86.87" y="433.18" width="21.42" height="18.91" fill="#ff2000"/><rect x="108.24" y="433.18" width="21.42" height="18.91" fill="#ff0000"/><rect x="129.60" y="433.18" width="21.42" height="18.91" fill="#df0000"/><rect x="150.97" y="433.18" width="21.42" height="18.91" fill="#ff0000"/><rect x="172.34" y="433.18" width="21.42" height="18.91" fill="#ff2000"/><rect x="193.71" y="433.18" width="21.42" height="18.91" fill="#ff2000"/><rect x="215.07" y="433.18" width="21.42" height="18.91" fill="#ff9f00"/><rect x="236.44" y="433.18" width="21.42" height="18.91" fill="#ff4000"/><rect x="257.81" y="433.18" width="21.42" height="18.91" fill="#ff2000"/><rect x="279.18" y="433.18" width="21.42" height="18.91" fill="#ff2000"/><rect x="300.55" y="433.18" width="21.42" height="18.91" fill="#ff0000"/><rect x="321.91" y="433.18" width="21.42" height="18.91" fill="#df0000"/><rect x="343.28" y="433.18" width="21.42" height="18.91" fill="#ff2000"/><rect x="364.65" y="433.18" width="21.42" height="18.91" fill="#ff4000"/><rect x="386.02" y="433.18" width="21.42" height="18.91" fill="#ff0000"/><rect x="407.39" y="433.18" width="21.42" height="18.91" fill="#ff0000"/><rect x="428.75" y="433.18" width="21.42" height="18.91" fill="#ff2000"/><rect x="450.12" y="433.18" width="21.42" height="18.91" fill="#ff2000"/><rect x="471.49" y="433.18" width="21.42" height="18.91" fill="#ff4000"/><rect x="492.86" y="433.18" width="21.42" height="18.91" fill="#ff2000"/><rect x="514.22" y="433.18" width="21.42" height="18.91" fill="#ff4000"/><rect x="535.59" y="433.18" width="21.42" height="18.91" fill="#ff4000"/><rect x="556.96" y="433.18" width="21.42" height="18.91" fill="#ff2000"/><rect x="578.33" y="433.18" width="21.42" height="18.91" fill="#ff2000"/><rect x="599.70" y="433.18" width="21.42" height="18.91" fill="#ff2000"/><rect x="621.06" y="433.18" width="21.42" height="18.91" fill="#ff0000"/><rect x="642.43" y="433.18" width="21.42" height="18.91" fill="#ff0000"/><rect x="65.50" y="452.04" width="21.42" height="18.91" fill="#ff8000"/><rect x="86.87" y="452.04" width="21.42" height="18.91" fill="#ff6000"/><rect x="108.24" y="452.04" width="21.42" height="18.91" fill="#ff4000"/><rect x="129.60" y="452.04" width="21.42" height="18.91" fill="#ff6000"/><rect x="150.97" y="452.04" width="21.42" height="18.91" fill="#ff8000"/><rect x="172.34" y="452.04" width="21.42" height="18.91" fill="#ff6000"/><rect x="193.71" y="452.04" width="21.42" height="18.91" fill="#ff8000"/><rect x="215.07" y="452.04" width="21.42" height="18.91" fill="#ff8000"/><rect x="236.44" y="452.04" width="21.42" height="18.91" fill="#ff6000"/><rect x="257.81" y="452.04" width="21.42" height="18.91" fill="#ff2000"/><rect x="279.18" y="452.04" width="21.42" height="18.91" fill="#ff4000"/><rect x="300.55" y="452.04" width="21.42" height="18.91" fill="#ff8000"/><rect x="321.91" y="452.04" width="21.42" height="18.91" fill="#ff6000"/><rect x="343.28" y="452.04" width="21.42" height="18.91" fill="#ff6000"/><rect x="364.65" y="452.04" width="21.42" height="18.91" fill="#ff8000"/><rect x="386.02" y="452.04" width="21.42" height="18.91" fill="#ff9f00"/><rect x="407.39" y="452.04" width="21.42" height="18.91" fill="#ff8000"/><rect x="428.75" y="452.04" width="21.42" height="18.91" fill="#ff8000"/><rect x="450.12" y="452.04" width="21.42" height="18.91" fill="#ff2000"/><rect x="471.49" y="452.04" width="21.42" height="18.91" fill="#ffbf00"/><rect x="492.86" y="452.04" width="21.42" height="18.91" fill="#ff8000"/><rect x="514.22" y="452.04" width="21.42" height="18.91" fill="#ff8000"/><rect x="535.59" y="452.04" width="21.42" height="18.91" fill="#ff4000"/><rect x="556.96" y="452.04" width="21.42" height="18.91" fill="#ff6000"/><rect x="578.33" y="452.04" width="21.42" height="18.91" fill="#ff6000"/><rect x="599.70" y="452.04" width="21.42" height="18.91" fill="#ff8000"/><rect x="621.06" y="452.04" width="21.42" height="18.91" fill="#ff4000"/><rect x="642.43" y="452.04" width="21.42" height="18.91" fill="#ff6000"/><rect x="65.50" y="470.90" width="21.42" height="18.91" fill="#60ff9f"/><rect x="86.87" y="470.90" width="21.42" height="18.91" fill="#dfff20"/><rect x="108.24" y="470.90" width="21.42" height="18.91" fill="#ffffff"/><rect x="129.60" y="470.90" width="21.42" height="18.91" fill="#9fff60"/><rect x="150.97" y="470.90" width="21.42" height="18.91" fill="#60ff9f"/><rect x="172.34" y="470.90" width="21.42" height="18.91" fill="#dfff20"/><rect x="193.71" y="470.90" width="21.42" height="18.91" fill="#9fff60"/><rect x="215.07" y="470.90" width="21.42" height="18.91" fill="#dfff20"/><rect x="236.44" y="470.90" width="21.42" height="18.91" fill="#40ffbf"/><rect x="257.81" y="470.90" width="21.42" height="18.91" fill="#9fff60"/><rect x="279.18" y="470.90" width="21.42" height="18.91" fill="#9fff60"/><rect x="300.55" y="470.90" width="21.42" height="18.91" fill="#60ff9f"/><rect x="321.91" y="470.90" width="21.42" height="18.91" fill="#dfff20"/><rect x="343.28" y="470.90" width="21.42" height="18.91" fill="#ffdf00"/><rect x="364.65" y="470.90" width="21.42" height="18.91" fill="#9fff60"/><rect x="386.02" y="470.90" width="21.42" height="18.91" fill="#80ff80"/><rect x="407.39" y="470.90" width="21.42" height="18.91" fill="#ffdf00"/><rect x="428.75" y="470.90" width="21.42" height="18.91" fill="#80ff80"/><rect x="450.12" y="470.90" width="21.42" height="18.91" fill="#ffff00"/><rect x="471.49" y="470.90" width="21.42" height="18.91" fill="#80ff80"/><rect x="492.86" y="470.90" width="21.42" height="18.91" fill="#bfff40"/><rect x="514.22" y="470.90" width="21.42" height="18.91" fill="#bfff40"/><rect x="535.59" y="470.90" width="21.42" height="18.91" fill="#dfff20"/><rect x="556.96" y="470.90" width="21.42" height="18.91" fill="#ffdf00"/><rect x="578.33" y="470.90" width="21.42" height="18.91" fill="#ffdf00"/><rect x="599.70" y="470.90" width="21.42" height="18.91" fill="#bfff40"/><rect x="621.06" y="470.90" width="21.42" height="18.91" fill="#dfff20"/><rect x="642.43" y="470.90" width="21.42" height="18.91" fill="#dfff20"/><rect x="65.50" y="489.76" width="21.42" height="18.91" fill="#ff9f00"/><rect x="86.87" y="489.76" width="21.42" height="18.91" fill="#ff6000"/><rect x="108.24" y="489.76" width="21.42" height="18.91" fill="#ff8000"/><rect x="129.60" y="489.76" width="21.42" height="18.91" fill="#ff4000"/><rect x="150.97" y="489.76" width="21.42" height="18.91" fill="#ffbf00"/><rect x="172.34" y="489.76" width="21.42" height="18.91" fill="#ff8000"/><rect x="193.71" y="489.76" width="21.42" height="18.91" fill="#ff8000"/><rect x="215.07" y="489.76" width="21.42" height="18.91" fill="#ff8000"/><rect x="236.44" y="489.76" width="21.42" height="18.91" fill="#ff8000"/><rect x="257.81" y="489.76" width="21.42" height="18.91" fill="#ff6000"/><rect x="279.18" y="489.76" width="21.42" height="18.91" fill="#ff6000"/><rect x="300.55" y="489.76" width="21.42" height="18.91" fill="#ffbf00"/><rect x="321.91" y="489.76" width="21.42" height="18.91" fill="#ff4000"/><rect x="343.28" y="489.76" width="21.42" height="18.91" fill="#ff6000"/><rect x="364.65" y="489.76" width="21.42" height="18.91" fill="#ff6000"/><rect x="386.02" y="489.76" width="21.42" height="18.91" fill="#ff9f00"/><rect x="407.39" y="489.76" width="21.42" height="18.91" fill="#ff4000"/><rect x="428.75" y="489.76" width="21.42" height="18.91" fill="#ff9f00"/><rect x="450.12" y="489.76" width="21.42" height="18.91" fill="#ff6000"/><rect x="471.49" y="489.76" width="21.42" height="18.91" fill="#ffbf00"/><rect x="492.86" y="489.76" width="21.42" height="18.91" fill="#ff9f00"/><rect x="514.22" y="489.76" width="21.42" height="18.91" fill="#ff9f00"/><rect x="535.59" y="489.76" width="21.42" height="18.91" fill="#ff9f00"/><rect x="556.96" y="489.76" width="21.42" height="18.91" fill="#ff8000"/><rect x="578.33" y="489.76" width="21.42" height="18.91" fill="#ff4000"/><rect x="599.70" y="489.76" width="21.42" height="18.91" fill="#ff9f00"/><rect x="621.06" y="489.76" width="21.42" height="18.91" fill="#ff9f00"/><rect x="642.43" y="489.76" width="21.42" height="18.91" fill="#ff6000"/><rect x="65.50" y="508.62" width="21.42" height="18.91" fill="#ff9f00"/><rect x="86.87" y="508.62" width="21.42" height="18.91" fill="#ff8000"/><rect x="108.24" y="508.62" width="21.42" height="18.91" fill="#ffdf00"/><rect x="129.60" y="508.62" width="21.42" height="18.91" fill="#ff4000"/><rect x="150.97" y="508.62" width="21.42" height="18.91" fill="#ff9f00"/><rect x="172.34" y="508.62" width="21.42" height="18.91" fill="#ff9f00"/><rect x="193.71" y="508.62" width="21.42" height="18.91" fill="#ff9f00"/><rect x="215.07" y="508.62" width="21.42" height="18.91" fill="#40ffbf"/><rect x="236.44" y="508.62" width="21.42" height="18.91" fill="#ff9f00"/><rect x="257.81" y="508.62" width="21.42" height="18.91" fill="#ff9f00"/><rect x="279.18" y="508.62" width="21.42" height="18.91" fill="#ff8000"/><rect x="300.55" y="508.62" width="21.42" height="18.91" fill="#ff8000"/><rect x="321.91" y="508.62" width="21.42" height="18.91" fill="#ffbf00"/><rect x="343.28" y="508.62" width="21.42" height="18.91" fill="#ff8000"/><rect x="364.65" y="508.62" width="21.42" height="18.91" fill="#ff8000"/><rect x="386.02" y="508.62" width="21.42" height="18.91" fill="#ff9f00"/><rect x="407.39" y="508.62" width="21.42" height="18.91" fill="#ff2000"/><rect x="428.75" y="508.62" width="21.42" height="18.91" fill="#ff9f00"/><rect x="450.12" y="508.62" width="21.42" height="18.91" fill="#ffbf00"/><rect x="471.49" y="508.62" width="21.42" height="18.91" fill="#ffdf00"/><rect x="492.86" y="508.62" width="21.42" height="18.91" fill="#ffdf00"/><rect x="514.22" y="508.62" width="21.42" height="18.91" fill="#ffff00"/><rect x="535.59" y="508.62" width="21.42" height="18.91" fill="#ffdf00"/><rect x="556.96" y="508.62" width="21.42" height="18.91" fill="#ffbf00"/><rect x="578.33" y="508.62" width="21.42" height="18.91" fill="#ff6000"/><rect x="599.70" y="508.62" width="21.42" height="18.91" fill="#ffbf00"/><rect x="621.06" y="508.62" width="21.42" height="18.91" fill="#ffbf00"/><rect x="642.43" y="508.62" width="21.42" height="18.91" fill="#ff9f00"/><rect x="65.50" y="527.49" width="21.42" height="18.91" fill="#40ffbf"/><rect x="86.87" y="527.49" width="21.42" height="18.91" fill="#20ffdf"/><rect x="108.24" y="527.49" width="21.42" height="18.91" fill="#ffffff"/><rect x="129.60" y="527.49" width="21.42" height="18.91" fill="#20ffdf"/><rect x="150.97" y="527.49" width="21.42" height="18.91" fill="#ffff00"/><rect x="172.34" y="527.49" width="21.42" height="18.91" fill="#dfff20"/><rect x="193.71" y="527.49" width="21.42" height="18.91" fill="#60ff9f"/><rect x="215.07" y="527.49" width="21.42" height="18.91" fill="#0060ff"/><rect x="236.44" y="527.49" width="21.42" height="18.91" fill="#ffffff"/><rect x="257.81" y="527.49" width="21.42" height="18.91" fill="#ffffff"/><rect x="279.18" y="527.49" width="21.42" height="18.91" fill="#ffffff"/><rect x="300.55" y="527.49" width="21.42" height="18.91" fill="#ffdf00"/><rect x="321.91" y="527.49" width="21.42" height="18.91" fill="#20ffdf"/><rect x="343.28" y="527.49" width="21.42" height="18.91" fill="#80ff80"/><rect x="364.65" y="527.49" width="21.42" height="18.91" fill="#ffffff"/><rect x="386.02" y="527.49" width="21.42" height="18.91" fill="#00bfff"/><rect x="407.39" y="527.49" width="21.42" height="18.91" fill="#ffffff"/><rect x="428.75" y="527.49" width="21.42" height="18.91" fill="#00ffff"/><rect x="450.12" y="527.49" width="21.42" height="18.91" fill="#ffffff"/><rect x="471.49" y="527.49" width="21.42" height="18.91" fill="#80ff80"/><rect x="492.86" y="527.49" width="21.42" height="18.91" fill="#0080ff"/><rect x="514.22" y="527.49" width="21.42" height="18.91" fill="#20ffdf"/><rect x="535.59" y="527.49" width="21.42" height="18.91" fill="#009fff"/><rect x="556.96" y="527.49" width="21.42" height="18.91" fill="#0080ff"/><rect x="578.33" y="527.49" width="21.42" height="18.91" fill="#0060ff"/><rect x="599.70" y="527.49" width="21.42" height="18.91" fill="#009fff"/><rect x="621.06" y="527.49" width="21.42" height="18.91" fill="#00ffff"/><rect x="642.43" y="527.49" width="21.42" height="18.91" fill="#20ffdf"/><rect x="65.50" y="546.35" width="21.42" height="18.91" fill="#bfff40"/><rect x="86.87" y="546.35" width="21.42" height="18.91" fill="#ffffff"/><rect x="108.24" y="546.35" width="21.42" height="18.91" fill="#ffffff"/><rect x="129.60" y="546.35" width="21.42" height="18.91" fill="#ffffff"/><rect x="150.97" y="546.35" width="21.42" height="18.91" fill="#9fff60"/><rect x="172.34" y="546.35" width="21.42" height="18.91" fill="#ffffff"/><rect x="193.71" y="546.35" width="21.42" height="18.91" fill="#ffffff"/><rect x="215.07" y="546.35" width="21.42" height="18.91" fill="#0060ff"/><rect x="236.44" y="546.35" width="21.42" height="18.91" fill="#ffffff"/><rect x="257.81" y="546.35" width="21.42" height="18.91" fill="#ffffff"/><rect x="279.18" y="546.35" width="21.42" height="18.91" fill="#20ffdf"/><rect x="300.55" y="546.35" width="21.42" height="18.91" fill="#ffffff"/><rect x="321.91" y="546.35" width="21.42" height="18.91" fill="#00bfff"/><rect x="343.28" y="546.35" width="21.42" height="18.91" fill="#ffffff"/><rect x="364.65" y="546.35" width="21.42" height="18.91" fill="#ffffff"/><rect x="386.02" y="546.35" width="21.42" height="18.91" fill="#40ffbf"/><rect x="407.39" y="546.35" width="21.42" height="18.91" fill="#60ff9f"/><rect x="428.75" y="546.35" width="21.42" height="18.91" fill="#00ffff"/><rect x="450.12" y="546.35" width="21.42" height="18.91" fill="#0060ff"/><rect x="471.49" y="546.35" width="21.42" height="18.91" fill="#00bfff"/><rect x="492.86" y="546.35" width="21.42" height="18.91" fill="#0040ff"/><rect x="514.22" y="546.35" width="21.42" height="18.91" fill="#ffffff"/><rect x="535.59" y="546.35" width="21.42" height="18.91" fill="#0000bf"/><rect x="556.96" y="546.35" width="21.42" height="18.91" fill="#0000bf"/><rect x="578.33" y="546.35" width="21.42" height="18.91" fill="#ffffff"/><rect x="599.70" y="546.35" width="21.42" height="18.91" fill="#0080ff"/><rect x="621.06" y="546.35" width="21.42" height="18.91" fill="#0040ff"/><rect x="642.43" y="546.35" width="21.42" height="18.91" fill="#ffffff"/><rect x="65.50" y="565.21" width="21.42" height="18.91" fill="#00ffff"/><rect x="86.87" y="565.21" width="21.42" height="18.91" fill="#ffffff"/><rect x="108.24" y="565.21" width="21.42" height="18.91" fill="#ffffff"/><rect x="129.60" y="565.21" width="21.42" height="18.91" fill="#00ffff"/><rect x="150.97" y="565.21" width="21.42" height="18.91" fill="#bfff40"/><rect x="172.34" y="565.21" width="21.42" height="18.91" fill="#ffffff"/><rect x="193.71" y="565.21" width="21.42" height="18.91" fill="#ffffff"/><rect x="215.07" y="565.21" width="21.42" height="18.91" fill="#ffffff"/><rect x="236.44" y="565.21" width="21.42" height="18.91" fill="#ffffff"/><rect x="257.81" y="565.21" width="21.42" height="18.91" fill="#ffffff"/><rect x="279.18" y="565.21" width="21.42" height="18.91" fill="#ffffff"/><rect x="300.55" y="565.21" width="21.42" height="18.91" fill="#40ffbf"/><rect x="321.91" y="565.21" width="21.42" height="18.91" fill="#00ffff"/><rect x="343.28" y="565.21" width="21.42" height="18.91" fill="#ffffff"/><rect x="364.65" y="565.21" width="21.42" height="18.91" fill="#ffffff"/><rect x="386.02" y="565.21" width="21.42" height="18.91" fill="#00bfff"/><rect x="407.39" y="565.21" width="21.42" height="18.91" fill="#ffffff"/><rect x="428.75" y="565.21" width="21.42" height="18.91" fill="#009fff"/><rect x="450.12" y="565.21" width="21.42" height="18.91" fill="#ffffff"/><rect x="471.49" y="565.21" width="21.42" height="18.91" fill="#ffffff"/><rect x="492.86" y="565.21" width="21.42" height="18.91" fill="#ffffff"/><rect x="514.22" y="565.21" width="21.42" height="18.91" fill="#ffffff"/><rect x="535.59" y="565.21" width="21.42" height="18.91" fill="#0000bf"/><rect x="556.96" y="565.21" width="21.42" height="18.91" fill="#ffffff"/><rect x="578.33" y="565.21" width="21.42" height="18.91" fill="#ffffff"/><rect x="599.70" y="565.21" width="21.42" height="18.91" fill="#ffffff"/><rect x="621.06" y="565.21" width="21.42" height="18.91" fill="#0080ff"/><rect x="642.43" y="565.21" width="21.42" height="18.91" fill="#ffffff"/><rect x="65.50" y="584.07" width="21.42" height="18.91" fill="#00ffff"/><rect x="86.87" y="584.07" width="21.42" height="18.91" fill="#ffffff"/><rect x="108.24" y="584.07" width="21.42" height="18.91" fill="#ffffff"/><rect x="129.60" y="584.07" width="21.42" height="18.91" fill="#00ffff"/><rect x="150.97" y="584.07" width="21.42" height="18.91" fill="#60ff9f"/><rect x="172.34" y="584.07" width="21.42" height="18.91" fill="#80ff80"/><rect x="193.71" y="584.07" width="21.42" height="18.91" fill="#ffffff"/><rect x="215.07" y="584.07" width="21.42" height="18.91" fill="#ffffff"/><rect x="236.44" y="584.07" width="21.42" height="18.91" fill="#ffffff"/><rect x="257.81" y="584.07" width="21.42" height="18.91" fill="#ffffff"/><rect x="279.18" y="584.07" width="21.42" height="18.91" fill="#ffffff"/><rect x="300.55" y="584.07" width="21.42" height="18.91" fill="#40ffbf"/><rect x="321.91" y="584.07" width="21.42" height="18.91" fill="#00ffff"/><rect x="343.28" y="584.07" width="21.42" height="18.91" fill="#ffffff"/><rect x="364.65" y="584.07" width="21.42" height="18.91" fill="#ffffff"/><rect x="386.02" y="584.07" width="21.42" height="18.91" fill="#00ffff"/><rect x="407.39" y="584.07" width="21.42" height="18.91" fill="#ffffff"/><rect x="428.75" y="584.07" width="21.42" height="18.91" fill="#009fff"/><rect x="450.12" y="584.07" width="21.42" height="18.91" fill="#ffffff"/><rect x="471.49" y="584.07" width="21.42" height="18.91" fill="#00bfff"/><rect x="492.86" y="584.07" width="21.42" height="18.91" fill="#0000ff"/><rect x="514.22" y="584.07" width="21.42" height="18.91" fill="#0040ff"/><rect x="535.59" y="584.07" width="21.42" height="18.91" fill="#0000bf"/><rect x="556.96" y="584.07" width="21.42" height="18.91" fill="#0020ff"/><rect x="578.33" y="584.07" width="21.42" height="18.91" fill="#ffffff"/><rect x="599.70" y="584.07" width="21.42" height="18.91" fill="#0060ff"/><rect x="621.06" y="584.07" width="21.42" height="18.91" fill="#0080ff"/><rect x="642.43" y="584.07" width="21.42" height="18.91" fill="#0060ff"/><rect x="65.50" y="602.93" width="21.42" height="18.91" fill="#00bfff"/><rect x="86.87" y="602.93" width="21.42" height="18.91" fill="#ffffff"/><rect x="108.24" y="602.93" width="21.42" height="18.91" fill="#ffffff"/><rect x="129.60" y="602.93" width="21.42" height="18.91" fill="#40ffbf"/><rect x="150.97" y="602.93" width="21.42" height="18.91" fill="#9fff60"/><rect x="172.34" y="602.93" width="21.42" height="18.91" fill="#ffffff"/><rect x="193.71" y="602.93" width="21.42" height="18.91" fill="#ffffff"/><rect x="215.07" y="602.93" width="21.42" height="18.91" fill="#0060ff"/><rect x="236.44" y="602.93" width="21.42" height="18.91" fill="#ffffff"/><rect x="257.81" y="602.93" width="21.42" height="18.91" fill="#ffffff"/><rect x="279.18" y="602.93" width="21.42" height="18.91" fill="#ffffff"/><rect x="300.55" y="602.93" width="21.42" height="18.91" fill="#40ffbf"/><rect x="321.91" y="602.93" width="21.42" height="18.91" fill="#20ffdf"/><rect x="343.28" y="602.93" width="21.42" height="18.91" fill="#00ffff"/><rect x="364.65" y="602.93" width="21.42" height="18.91" fill="#ffffff"/><rect x="386.02" y="602.93" width="21.42" height="18.91" fill="#20ffdf"/><rect x="407.39" y="602.93" width="21.42" height="18.91" fill="#ffffff"/><rect x="428.75" y="602.93" width="21.42" height="18.91" fill="#00ffff"/><rect x="450.12" y="602.93" width="21.42" height="18.91" fill="#0060ff"/><rect x="471.49" y="602.93" width="21.42" height="18.91" fill="#00dfff"/><rect x="492.86" y="602.93" width="21.42" height="18.91" fill="#0060ff"/><rect x="514.22" y="602.93" width="21.42" height="18.91" fill="#ffffff"/><rect x="535.59" y="602.93" width="21.42" height="18.91" fill="#0060ff"/><rect x="556.96" y="602.93" width="21.42" height="18.91" fill="#0080ff"/><rect x="578.33" y="602.93" width="21.42" height="18.91" fill="#ffffff"/><rect x="599.70" y="602.93" width="21.42" height="18.91" fill="#009fff"/><rect x="621.06" y="602.93" width="21.42" height="18.91" fill="#00dfff"/><rect x="642.43" y="602.93" width="21.42" height="18.91" fill="#ffffff"/><rect x="65.50" y="621.80" width="21.42" height="18.91" fill="#ffffff"/><rect x="86.87" y="621.80" width="21.42" height="18.91" fill="#ffffff"/><rect x="108.24" y="621.80" width="21.42" height="18.91" fill="#ffffff"/><rect x="129.60" y="621.80" width="21.42" height="18.91" fill="#ffffff"/><rect x="150.97" y="621.80" width="21.42" height="18.91" fill="#ffffff"/><rect x="172.34" y="621.80" width="21.42" height="18.91" fill="#ffffff"/><rect x="193.71" y="621.80" width="21.42" height="18.91" fill="#ffffff"/><rect x="215.07" y="621.80" width="21.42" height="18.91" fill="#ffffff"/><rect x="236.44" y="621.80" width="21.42" height="18.91" fill="#ffffff"/><rect x="257.81" y="621.80" width="21.42" height="18.91" fill="#ffffff"/><rect x="279.18" y="621.80" width="21.42" height="18.91" fill="#ffffff"/><rect x="300.55" y="621.80" width="21.42" height="18.91" fill="#ffffff"/><rect x="321.91" y="621.80" width="21.42" height="18.91" fill="#00bfff"/><rect x="343.28" y="621.80" width="21.42" height="18.91" fill="#ffffff"/><rect x="364.65" y="621.80" width="21.42" height="18.91" fill="#ffffff"/><rect x="386.02" y="621.80" width="21.42" height="18.91" fill="#ffffff"/><rect x="407.39" y="621.80" width="21.42" height="18.91" fill="#ffffff"/><rect x="428.75" y="621.80" width="21.42" height="18.91" fill="#ffffff"/><rect x="450.12" y="621.80" width="21.42" height="18.91" fill="#ffffff"/><rect x="471.49" y="621.80" width="21.42" height="18.91" fill="#ffffff"/><rect x="492.86" y="621.80" width="21.42" height="18.91" fill="#ffffff"/><rect x="514.22" y="621.80" width="21.42" height="18.91" fill="#ffffff"/><rect x="535.59" y="621.80" width="21.42" height="18.91" fill="#ffffff"/><rect x="556.96" y="621.80" width="21.42" height="18.91" fill="#0000bf"/><rect x="578.33" y="621.80" width="21.42" height="18.91" fill="#ffffff"/><rect x="599.70" y="621.80" width="21.42" height="18.91" fill="#ffffff"/><rect x="621.06" y="621.80" width="21.42" height="18.91" fill="#009fff"/><rect x="642.43" y="621.80" width="21.42" height="18.91" fill="#ffffff"/><rect x="65.50" y="640.66" width="21.42" height="18.91" fill="#9fff60"/><rect x="86.87" y="640.66" width="21.42" height="18.91" fill="#60ff9f"/><rect x="108.24" y="640.66" width="21.42" height="18.91" fill="#ffffff"/><rect x="129.60" y="640.66" width="21.42" height="18.91" fill="#00ffff"/><rect x="150.97" y="640.66" width="21.42" height="18.91" fill="#dfff20"/><rect x="172.34" y="640.66" width="21.42" height="18.91" fill="#ffffff"/><rect x="193.71" y="640.66" width="21.42" height="18.91" fill="#ffffff"/><rect x="215.07" y="640.66" width="21.42" height="18.91" fill="#ffffff"/><rect x="236.44" y="640.66" width="21.42" height="18.91" fill="#ffffff"/><rect x="257.81" y="640.66" width="21.42" height="18.91" fill="#9fff60"/><rect x="279.18" y="640.66" width="21.42" height="18.91" fill="#ffffff"/><rect x="300.55" y="640.66" width="21.42" height="18.91" fill="#bfff40"/><rect x="321.91" y="640.66" width="21.42" height="18.91" fill="#20ffdf"/><rect x="343.28" y="640.66" width="21.42" height="18.91" fill="#ffffff"/><rect x="364.65" y="640.66" width="21.42" height="18.91" fill="#ffffff"/><rect x="386.02" y="640.66" width="21.42" height="18.91" fill="#bfff40"/><rect x="407.39" y="640.66" width="21.42" height="18.91" fill="#ffffff"/><rect x="428.75" y="640.66" width="21.42" height="18.91" fill="#9fff60"/><rect x="450.12" y="640.66" width="21.42" height="18.91" fill="#0060ff"/><rect x="471.49" y="640.66" width="21.42" height="18.91" fill="#60ff9f"/><rect x="492.86" y="640.66" width="21.42" height="18.91" fill="#9fff60"/><rect x="514.22" y="640.66" width="21.42" height="18.91" fill="#ffffff"/><rect x="535.59" y="640.66" width="21.42" height="18.91" fill="#0040ff"/><rect x="556.96" y="640.66" width="21.42" height="18.91" fill="#0040ff"/><rect x="578.33" y="640.66" width="21.42" height="18.91" fill="#0060ff"/><rect x="599.70" y="640.66" width="21.42" height="18.91" fill="#40ffbf"/><rect x="621.06" y="640.66" width="21.42" height="18.91" fill="#00dfff"/><rect x="642.43" y="640.66" width="21.42" height="18.91" fill="#ffffff"/><rect x="65.50" y="659.52" width="21.42" height="18.91" fill="#ffdf00"/><rect x="86.87" y="659.52" width="21.42" height="18.91" fill="#ff8000"/><rect x="108.24" y="659.52" width="21.42" height="18.91" fill="#dfff20"/><rect x="129.60" y="659.52" width="21.42" height="18.91" fill="#ffbf00"/><rect x="150.97" y="659.52" width="21.42" height="18.91" fill="#ff4000"/><rect x="172.34" y="659.52" width="21.42" height="18.91" fill="#ffff00"/><rect x="193.71" y="659.52" width="21.42" height="18.91" fill="#ffbf00"/><rect x="215.07" y="659.52" width="21.42" height="18.91" fill="#dfff20"/><rect x="236.44" y="659.52" width="21.42" height="18.91" fill="#ff9f00"/><rect x="257.81" y="659.52" width="21.42" height="18.91" fill="#ffbf00"/><rect x="279.18" y="659.52" width="21.42" height="18.91" fill="#ff6000"/><rect x="300.55" y="659.52" width="21.42" height="18.91" fill="#ffbf00"/><rect x="321.91" y="659.52" width="21.42" height="18.91" fill="#ffdf00"/><rect x="343.28" y="659.52" width="21.42" height="18.91" fill="#ffff00"/><rect x="364.65" y="659.52" width="21.42" height="18.91" fill="#ffbf00"/><rect x="386.02" y="659.52" width="21.42" height="18.91" fill="#ffdf00"/><rect x="407.39" y="659.52" width="21.42" height="18.91" fill="#ff6000"/><rect x="428.75" y="659.52" width="21.42" height="18.91" fill="#ffff00"/><rect x="450.12" y="659.52" width="21.42" height="18.91" fill="#60ff9f"/><rect x="471.49" y="659.52" width="21.42" height="18.91" fill="#ff4000"/><rect x="492.86" y="659.52" width="21.42" height="18.91" fill="#9fff60"/><rect x="514.22" y="659.52" width="21.42" height="18.91" fill="#00ffff"/><rect x="535.59" y="659.52" width="21.42" height="18.91" fill="#40ffbf"/><rect x="556.96" y="659.52" width="21.42" height="18.91" fill="#40ffbf"/><rect x="578.33" y="659.52" width="21.42" height="18.91" fill="#40ffbf"/><rect x="599.70" y="659.52" width="21.42" height="18.91" fill="#80ff80"/><rect x="621.06" y="659.52" width="21.42" height="18.91" fill="#bfff40"/><rect x="642.43" y="659.52" width="21.42" height="18.91" fill="#9fff60"/><rect x="65.50" y="678.38" width="21.42" height="18.91" fill="#20ffdf"/><rect x="86.87" y="678.38" width="21.42" height="18.91" fill="#60ff9f"/><rect x="108.24" y="678.38" width="21.42" height="18.91" fill="#ffffff"/><rect x="129.60" y="678.38" width="21.42" height="18.91" fill="#40ffbf"/><rect x="150.97" y="678.38" width="21.42" height="18.91" fill="#9fff60"/><rect x="172.34" y="678.38" width="21.42" height="18.91" fill="#ffffff"/><rect x="193.71" y="678.38" width="21.42" height="18.91" fill="#20ffdf"/><rect x="215.07" y="678.38" width="21.42" height="18.91" fill="#0060ff"/><rect x="236.44" y="678.38" width="21.42" height="18.91" fill="#40ffbf"/><rect x="257.81" y="678.38" width="21.42" height="18.91" fill="#ffffff"/><rect x="279.18" y="678.38" width="21.42" height="18.91" fill="#ffffff"/><rect x="300.55" y="678.38" width="21.42" height="18.91" fill="#80ff80"/><rect x="321.91" y="678.38" width="21.42" height="18.91" fill="#40ffbf"/><rect x="343.28" y="678.38" width="21.42" height="18.91" fill="#ffffff"/><rect x="364.65" y="678.38" width="21.42" height="18.91" fill="#ffffff"/><rect x="386.02" y="678.38" width="21.42" height="18.91" fill="#20ffdf"/><rect x="407.39" y="678.38" width="21.42" height="18.91" fill="#ffffff"/><rect x="428.75" y="678.38" width="21.42" height="18.91" fill="#00bfff"/><rect x="450.12" y="678.38" width="21.42" height="18.91" fill="#ffffff"/><rect x="471.49" y="678.38" width="21.42" height="18.91" fill="#60ff9f"/><rect x="492.86" y="678.38" width="21.42" height="18.91" fill="#0060ff"/><rect x="514.22" y="678.38" width="21.42" height="18.91" fill="#ffffff"/><rect x="535.59" y="678.38" width="21.42" height="18.91" fill="#0080ff"/><rect x="556.96" y="678.38" width="21.42" height="18.91" fill="#009fff"/><rect x="578.33" y="678.38" width="21.42" height="18.91" fill="#0060ff"/><rect x="599.70" y="678.38" width="21.42" height="18.91" fill="#009fff"/><rect x="621.06" y="678.38" width="21.42" height="18.91" fill="#00ffff"/><rect x="642.43" y="678.38" width="21.42" height="18.91" fill="#009fff"/><rect x="65.50" y="697.24" width="21.42" height="18.91" fill="#40ffbf"/><rect x="86.87" y="697.24" width="21.42" height="18.91" fill="#ffffff"/><rect x="108.24" y="697.24" width="21.42" height="18.91" fill="#ffffff"/><rect x="129.60" y="697.24" width="21.42" height="18.91" fill="#00ffff"/><rect x="150.97" y="697.24" width="21.42" height="18.91" fill="#ffffff"/><rect x="172.34" y="697.24" width="21.42" height="18.91" fill="#ffffff"/><rect x="193.71" y="697.24" width="21.42" height="18.91" fill="#ffffff"/><rect x="215.07" y="697.24" width="21.42" height="18.91" fill="#ffffff"/><rect x="236.44" y="697.24" width="21.42" height="18.91" fill="#ffffff"/><rect x="257.81" y="697.24" width="21.42" height="18.91" fill="#ffffff"/><rect x="279.18" y="697.24" width="21.42" height="18.91" fill="#ffffff"/><rect x="300.55" y="697.24" width="21.42" height="18.91" fill="#ffffff"/><rect x="321.91" y="697.24" width="21.42" height="18.91" fill="#00bfff"/><rect x="343.28" y="697.24" width="21.42" height="18.91" fill="#ffffff"/><rect x="364.65" y="697.24" width="21.42" height="18.91" fill="#00ffff"/><rect x="386.02" y="697.24" width="21.42" height="18.91" fill="#00bfff"/><rect x="407.39" y="697.24" width="21.42" height="18.91" fill="#ffffff"/><rect x="428.75" y="697.24" width="21.42" height="18.91" fill="#00bfff"/><rect x="450.12" y="697.24" width="21.42" height="18.91" fill="#ffffff"/><rect x="471.49" y="697.24" width="21.42" height="18.91" fill="#00bfff"/><rect x="492.86" y="697.24" width="21.42" height="18.91" fill="#0040ff"/><rect x="514.22" y="697.24" width="21.42" height="18.91" fill="#0080ff"/><rect x="535.59" y="697.24" width="21.42" height="18.91" fill="#0060ff"/><rect x="556.96" y="697.24" width="21.42" height="18.91" fill="#0080ff"/><rect x="578.33" y="697.24" width="21.42" height="18.91" fill="#0060ff"/><rect x="599.70" y="697.24" width="21.42" height="18.91" fill="#0000ff"/><rect x="621.06" y="697.24" width="21.42" height="18.91" fill="#009fff"/><rect x="642.43" y="697.24" width="21.42" height="18.91" fill="#0060ff"/><rect x="65.50" y="716.10" width="21.42" height="18.91" fill="#ff8000"/><rect x="86.87" y="716.10" width="21.42" height="18.91" fill="#ffff00"/><rect x="108.24" y="716.10" width="21.42" height="18.91" fill="#ffbf00"/><rect x="129.60" y="716.10" width="21.42" height="18.91" fill="#ff8000"/><rect x="150.97" y="716.10" width="21.42" height="18.91" fill="#ff8000"/><rect x="172.34" y="716.10" width="21.42" height="18.91" fill="#ffff00"/><rect x="193.71" y="716.10" width="21.42" height="18.91" fill="#ffdf00"/><rect x="215.07" y="716.10" width="21.42" height="18.91" fill="#80ff80"/><rect x="236.44" y="716.10" width="21.42" height="18.91" fill="#dfff20"/><rect x="257.81" y="716.10" width="21.42" height="18.91" fill="#dfff20"/><rect x="279.18" y="716.10" width="21.42" height="18.91" fill="#bfff40"/><rect x="300.55" y="716.10" width="21.42" height="18.91" fill="#ffbf00"/><rect x="321.91" y="716.10" width="21.42" height="18.91" fill="#ff9f00"/><rect x="343.28" y="716.10" width="21.42" height="18.91" fill="#ffdf00"/><rect x="364.65" y="716.10" width="21.42" height="18.91" fill="#dfff20"/><rect x="386.02" y="716.10" width="21.42" height="18.91" fill="#ff9f00"/><rect x="407.39" y="716.10" width="21.42" height="18.91" fill="#ffff00"/><rect x="428.75" y="716.10" width="21.42" height="18.91" fill="#dfff20"/><rect x="450.12" y="716.10" width="21.42" height="18.91" fill="#dfff20"/><rect x="471.49" y="716.10" width="21.42" height="18.91" fill="#ffff00"/><rect x="492.86" y="716.10" width="21.42" height="18.91" fill="#ffff00"/><rect x="514.22" y="716.10" width="21.42" height="18.91" fill="#bfff40"/><rect x="535.59" y="716.10" width="21.42" height="18.91" fill="#dfff20"/><rect x="556.96" y="716.10" width="21.42" height="18.91" fill="#ffdf00"/><rect x="578.33" y="716.10" width="21.42" height="18.91" fill="#dfff20"/><rect x="599.70" y="716.10" width="21.42" height="18.91" fill="#ffdf00"/><rect x="621.06" y="716.10" width="21.42" height="18.91" fill="#ff8000"/><rect x="642.43" y="716.10" width="21.42" height="18.91" fill="#ffdf00"/><rect x="65.50" y="734.97" width="21.42" height="18.91" fill="#df0000"/><rect x="86.87" y="734.97" width="21.42" height="18.91" fill="#ff0000"/><rect x="108.24" y="734.97" width="21.42" height="18.91" fill="#df0000"/><rect x="129.60" y="734.97" width="21.42" height="18.91" fill="#df0000"/><rect x="150.97" y="734.97" width="21.42" height="18.91" fill="#ff0000"/><rect x="172.34" y="734.97" width="21.42" height="18.91" fill="#ff0000"/><rect x="193.71" y="734.97" width="21.42" height="18.91" fill="#df0000"/><rect x="215.07" y="734.97" width="21.42" height="18.91" fill="#ff2000"/><rect x="236.44" y="734.97" width="21.42" height="18.91" fill="#ff0000"/><rect x="257.81" y="734.97" width="21.42" height="18.91" fill="#cf0000"/><rect x="279.18" y="734.97" width="21.42" height="18.91" fill="#df0000"/><rect x="300.55" y="734.97" width="21.42" height="18.91" fill="#ff0000"/><rect x="321.91" y="734.97" width="21.42" height="18.91" fill="#cf0000"/><rect x="343.28" y="734.97" width="21.42" height="18.91" fill="#df0000"/><rect x="364.65" y="734.97" width="21.42" height="18.91" fill="#ff0000"/><rect x="386.02" y="734.97" width="21.42" height="18.91" fill="#ff0000"/><rect x="407.39" y="734.97" width="21.42" height="18.91" fill="#ff0000"/><rect x="428.75" y="734.97" width="21.42" height="18.91" fill="#ff0000"/><rect x="450.12" y="734.97" width="21.42" height="18.91" fill="#cf0000"/><rect x="471.49" y="734.97" width="21.42" height="18.91" fill="#ff0000"/><rect x="492.86" y="734.97" width="21.42" height="18.91" fill="#ff0000"/><rect x="514.22" y="734.97" width="21.42" height="18.91" fill="#ff0000"/><rect x="535.59" y="734.97" width="21.42" height="18.91" fill="#ff0000"/><rect x="556.96" y="734.97" width="21.42" height="18.91" fill="#ff0000"/><rect x="578.33" y="734.97" width="21.42" height="18.91" fill="#ff0000"/><rect x="599.70" y="734.97" width="21.42" height="18.91" fill="#ff0000"/><rect x="621.06" y="734.97" width="21.42" height="18.91" fill="#df0000"/><rect x="642.43" y="734.97" width="21.42" height="18.91" fill="#ff0000"/><rect x="65.50" y="753.83" width="21.42" height="18.91" fill="#dfff20"/><rect x="86.87" y="753.83" width="21.42" height="18.91" fill="#ffbf00"/><rect x="108.24" y="753.83" width="21.42" height="18.91" fill="#9fff60"/><rect x="129.60" y="753.83" width="21.42" height="18.91" fill="#ffbf00"/><rect x="150.97" y="753.83" width="21.42" height="18.91" fill="#ffffff"/><rect x="172.34" y="753.83" width="21.42" height="18.91" fill="#ffff00"/><rect x="193.71" y="753.83" width="21.42" height="18.91" fill="#ffff00"/><rect x="215.07" y="753.83" width="21.42" height="18.91" fill="#80ff80"/><rect x="236.44" y="753.83" width="21.42" height="18.91" fill="#dfff20"/><rect x="257.81" y="753.83" width="21.42" height="18.91" fill="#dfff20"/><rect x="279.18" y="753.83" width="21.42" height="18.91" fill="#dfff20"/><rect x="300.55" y="753.83" width="21.42" height="18.91" fill="#bfff40"/><rect x="321.91" y="753.83" width="21.42" height="18.91" fill="#ffdf00"/><rect x="343.28" y="753.83" width="21.42" height="18.91" fill="#ffdf00"/><rect x="364.65" y="753.83" width="21.42" height="18.91" fill="#dfff20"/><rect x="386.02" y="753.83" width="21.42" height="18.91" fill="#dfff20"/><rect x="407.39" y="753.83" width="21.42" height="18.91" fill="#ff9f00"/><rect x="428.75" y="753.83" width="21.42" height="18.91" fill="#bfff40"/><rect x="450.12" y="753.83" width="21.42" height="18.91" fill="#ffbf00"/><rect x="471.49" y="753.83" width="21.42" height="18.91" fill="#dfff20"/><rect x="492.86" y="753.83" width="21.42" height="18.91" fill="#dfff20"/><rect x="514.22" y="753.83" width="21.42" height="18.91" fill="#dfff20"/><rect x="535.59" y="753.83" width="21.42" height="18.91" fill="#ffff00"/><rect x="556.96" y="753.83" width="21.42" height="18.91" fill="#ffbf00"/><rect x="578.33" y="753.83" width="21.42" height="18.91" fill="#ff9f00"/><rect x="599.70" y="753.83" width="21.42" height="18.91" fill="#dfff20"/><rect x="621.06" y="753.83" width="21.42" height="18.91" fill="#ffff00"/><rect x="642.43" y="753.83" width="21.42" height="18.91" fill="#ffdf00"/><rect x="65.50" y="772.69" width="21.42" height="18.91" fill="#ff6000"/><rect x="86.87" y="772.69" width="21.42" height="18.91" fill="#ff6000"/><rect x="108.24" y="772.69" width="21.42" height="18.91" fill="#ffdf00"/><rect x="129.60" y="772.69" width="21.42" height="18.91" fill="#ff4000"/><rect x="150.97" y="772.69" width="21.42" height="18.91" fill="#ff8000"/><rect x="172.34" y="772.69" width="21.42" height="18.91" fill="#ff9f00"/><rect x="193.71" y="772.69" width="21.42" height="18.91" fill="#ff9f00"/><rect x="215.07" y="772.69" width="21.42" height="18.91" fill="#ffff00"/><rect x="236.44" y="772.69" width="21.42" height="18.91" fill="#ff9f00"/><rect x="257.81" y="772.69" width="21.42" height="18.91" fill="#ff8000"/><rect x="279.18" y="772.69" width="21.42" height="18.91" fill="#ff9f00"/><rect x="300.55" y="772.69" width="21.42" height="18.91" fill="#ff8000"/><rect x="321.91" y="772.69" width="21.42" height="18.91" fill="#ff6000"/><rect x="343.28" y="772.69" width="21.42" height="18.91" fill="#ff6000"/><rect x="364.65" y="772.69" width="21.42" height="18.91" fill="#ff9f00"/><rect x="386.02" y="772.69" width="21.42" height="18.91" fill="#ff9f00"/><rect x="407.39" y="772.69" width="21.42" height="18.91" fill="#ff4000"/><rect x="428.75" y="772.69" width="21.42" height="18.91" fill="#ff8000"/><rect x="450.12" y="772.69" width="21.42" height="18.91" fill="#ff6000"/><rect x="471.49" y="772.69" width="21.42" height="18.91" fill="#ffdf00"/><rect x="492.86" y="772.69" width="21.42" height="18.91" fill="#ff9f00"/><rect x="514.22" y="772.69" width="21.42" height="18.91" fill="#ffbf00"/><rect x="535.59" y="772.69" width="21.42" height="18.91" fill="#ff9f00"/><rect x="556.96" y="772.69" width="21.42" height="18.91" fill="#ff8000"/><rect x="578.33" y="772.69" width="21.42" height="18.91" fill="#ff4000"/><rect x="599.70" y="772.69" width="21.42" height="18.91" fill="#ff8000"/><rect x="621.06" y="772.69" width="21.42" height="18.91" fill="#ff6000"/><rect x="642.43" y="772.69" width="21.42" height="18.91" fill="#ff8000"/><rect x="65.50" y="791.55" width="21.42" height="18.91" fill="#bfff40"/><rect x="86.87" y="791.55" width="21.42" height="18.91" fill="#9fff60"/><rect x="108.24" y="791.55" width="21.42" height="18.91" fill="#ffffff"/><rect x="129.60" y="791.55" width="21.42" height="18.91" fill="#bfff40"/><rect x="150.97" y="791.55" width="21.42" height="18.91" fill="#ffffff"/><rect x="172.34" y="791.55" width="21.42" height="18.91" fill="#9fff60"/><rect x="193.71" y="791.55" width="21.42" height="18.91" fill="#9fff60"/><rect x="215.07" y="791.55" width="21.42" height="18.91" fill="#00ffff"/><rect x="236.44" y="791.55" width="21.42" height="18.91" fill="#40ffbf"/><rect x="257.81" y="791.55" width="21.42" height="18.91" fill="#9fff60"/><rect x="279.18" y="791.55" width="21.42" height="18.91" fill="#80ff80"/><rect x="300.55" y="791.55" width="21.42" height="18.91" fill="#60ff9f"/><rect x="321.91" y="791.55" width="21.42" height="18.91" fill="#9fff60"/><rect x="343.28" y="791.55" width="21.42" height="18.91" fill="#bfff40"/><rect x="364.65" y="791.55" width="21.42" height="18.91" fill="#80ff80"/><rect x="386.02" y="791.55" width="21.42" height="18.91" fill="#9fff60"/><rect x="407.39" y="791.55" width="21.42" height="18.91" fill="#dfff20"/><rect x="428.75" y="791.55" width="21.42" height="18.91" fill="#80ff80"/><rect x="450.12" y="791.55" width="21.42" height="18.91" fill="#80ff80"/><rect x="471.49" y="791.55" width="21.42" height="18.91" fill="#60ff9f"/><rect x="492.86" y="791.55" width="21.42" height="18.91" fill="#80ff80"/><rect x="514.22" y="791.55" width="21.42" height="18.91" fill="#80ff80"/><rect x="535.59" y="791.55" width="21.42" height="18.91" fill="#80ff80"/><rect x="556.96" y="791.55" width="21.42" height="18.91" fill="#dfff20"/><rect x="578.33" y="791.55" width="21.42" height="18.91" fill="#ffff00"/><rect x="599.70" y="791.55" width="21.42" height="18.91" fill="#80ff80"/><rect x="621.06" y="791.55" width="21.42" height="18.91" fill="#dfff20"/><rect x="642.43" y="791.55" width="21.42" height="18.91" fill="#9fff60"/><rect x="65.50" y="810.41" width="21.42" height="18.91" fill="#60ff9f"/><rect x="86.87" y="810.41" width="21.42" height="18.91" fill="#60ff9f"/><rect x="108.24" y="810.41" width="21.42" height="18.91" fill="#ffffff"/><rect x="129.60" y="810.41" width="21.42" height="18.91" fill="#60ff9f"/><rect x="150.97" y="810.41" width="21.42" height="18.91" fill="#ffffff"/><rect x="172.34" y="810.41" width="21.42" height="18.91" fill="#ffffff"/><rect x="193.71" y="810.41" width="21.42" height="18.91" fill="#ffffff"/><rect x="215.07" y="810.41" width="21.42" height="18.91" fill="#00dfff"/><rect x="236.44" y="810.41" width="21.42" height="18.91" fill="#ffffff"/><rect x="257.81" y="810.41" width="21.42" height="18.91" fill="#ffffff"/><rect x="279.18" y="810.41" width="21.42" height="18.91" fill="#ffffff"/><rect x="300.55" y="810.41" width="21.42" height="18.91" fill="#ffffff"/><rect x="321.91" y="810.41" width="21.42" height="18.91" fill="#60ff9f"/><rect x="343.28" y="810.41" width="21.42" height="18.91" fill="#80ff80"/><rect x="364.65" y="810.41" width="21.42" height="18.91" fill="#60ff9f"/><rect x="386.02" y="810.41" width="21.42" height="18.91" fill="#20ffdf"/><rect x="407.39" y="810.41" width="21.42" height="18.91" fill="#60ff9f"/><rect x="428.75" y="810.41" width="21.42" height="18.91" fill="#00ffff"/><rect x="450.12" y="810.41" width="21.42" height="18.91" fill="#20ffdf"/><rect x="471.49" y="810.41" width="21.42" height="18.91" fill="#20ffdf"/><rect x="492.86" y="810.41" width="21.42" height="18.91" fill="#40ffbf"/><rect x="514.22" y="810.41" width="21.42" height="18.91" fill="#40ffbf"/><rect x="535.59" y="810.41" width="21.42" height="18.91" fill="#20ffdf"/><rect x="556.96" y="810.41" width="21.42" height="18.91" fill="#9fff60"/><rect x="578.33" y="810.41" width="21.42" height="18.91" fill="#80ff80"/><rect x="599.70" y="810.41" width="21.42" height="18.91" fill="#60ff9f"/><rect x="621.06" y="810.41" width="21.42" height="18.91" fill="#80ff80"/><rect x="642.43" y="810.41" width="21.42" height="18.91" fill="#20ffdf"/><rect x="65.50" y="829.28" width="21.42" height="18.91" fill="#00ffff"/><rect x="86.87" y="829.28" width="21.42" height="18.91" fill="#ffffff"/><rect x="108.24" y="829.28" width="21.42" height="18.91" fill="#ffffff"/><rect x="129.60" y="829.28" width="21.42" height="18.91" fill="#00ffff"/><rect x="150.97" y="829.28" width="21.42" height="18.91" fill="#ffffff"/><rect x="172.34" y="829.28" width="21.42" height="18.91" fill="#40ffbf"/><rect x="193.71" y="829.28" width="21.42" height="18.91" fill="#ffffff"/><rect x="215.07" y="829.28" width="21.42" height="18.91" fill="#0040ff"/><rect x="236.44" y="829.28" width="21.42" height="18.91" fill="#ffffff"/><rect x="257.81" y="829.28" width="21.42" height="18.91" fill="#ffffff"/><rect x="279.18" y="829.28" width="21.42" height="18.91" fill="#ffffff"/><rect x="300.55" y="829.28" width="21.42" height="18.91" fill="#ffffff"/><rect x="321.91" y="829.28" width="21.42" height="18.91" fill="#00bfff"/><rect x="343.28" y="829.28" width="21.42" height="18.91" fill="#ffffff"/><rect x="364.65" y="829.28" width="21.42" height="18.91" fill="#00ffff"/><rect x="386.02" y="829.28" width="21.42" height="18.91" fill="#00bfff"/><rect x="407.39" y="829.28" width="21.42" height="18.91" fill="#ffffff"/><rect x="428.75" y="829.28" width="21.42" height="18.91" fill="#009fff"/><rect x="450.12" y="829.28" width="21.42" height="18.91" fill="#ffffff"/><rect x="471.49" y="829.28" width="21.42" height="18.91" fill="#20ffdf"/><rect x="492.86" y="829.28" width="21.42" height="18.91" fill="#00bfff"/><rect x="514.22" y="829.28" width="21.42" height="18.91" fill="#00ffff"/><rect x="535.59" y="829.28" width="21.42" height="18.91" fill="#0040ff"/><rect x="556.96" y="829.28" width="21.42" height="18.91" fill="#20ffdf"/><rect x="578.33" y="829.28" width="21.42" height="18.91" fill="#00ffff"/><rect x="599.70" y="829.28" width="21.42" height="18.91" fill="#00dfff"/><rect x="621.06" y="829.28" width="21.42" height="18.91" fill="#00ffff"/><rect x="642.43" y="829.28" width="21.42" height="18.91" fill="#009fff"/><rect x="65.50" y="848.14" width="21.42" height="18.91" fill="#40ffbf"/><rect x="86.87" y="848.14" width="21.42" height="18.91" fill="#20ffdf"/><rect x="108.24" y="848.14" width="21.42" height="18.91" fill="#ffffff"/><rect x="129.60" y="848.14" width="21.42" height="18.91" fill="#40ffbf"/><rect x="150.97" y="848.14" width="21.42" height="18.91" fill="#ffffff"/><rect x="172.34" y="848.14" width="21.42" height="18.91" fill="#ffffff"/><rect x="193.71" y="848.14" width="21.42" height="18.91" fill="#ffffff"/><rect x="215.07" y="848.14" width="21.42" height="18.91" fill="#0040ff"/><rect x="236.44" y="848.14" width="21.42" height="18.91" fill="#ffffff"/><rect x="257.81" y="848.14" width="21.42" height="18.91" fill="#ffffff"/><rect x="279.18" y="848.14" width="21.42" height="18.91" fill="#ffffff"/><rect x="300.55" y="848.14" width="21.42" height="18.91" fill="#ffffff"/><rect x="321.91" y="848.14" width="21.42" height="18.91" fill="#20ffdf"/><rect x="343.28" y="848.14" width="21.42" height="18.91" fill="#ffffff"/><rect x="364.65" y="848.14" width="21.42" height="18.91" fill="#ffffff"/><rect x="386.02" y="848.14" width="21.42" height="18.91" fill="#20ffdf"/><rect x="407.39" y="848.14" width="21.42" height="18.91" fill="#ffffff"/><rect x="428.75" y="848.14" width="21.42" height="18.91" fill="#00ffff"/><rect x="450.12" y="848.14" width="21.42" height="18.91" fill="#ffffff"/><rect x="471.49" y="848.14" width="21.42" height="18.91" fill="#00bfff"/><rect x="492.86" y="848.14" width="21.42" height="18.91" fill="#0080ff"/><rect x="514.22" y="848.14" width="21.42" height="18.91" fill="#00dfff"/><rect x="535.59" y="848.14" width="21.42" height="18.91" fill="#0060ff"/><rect x="556.96" y="848.14" width="21.42" height="18.91" fill="#00ffff"/><rect x="578.33" y="848.14" width="21.42" height="18.91" fill="#0080ff"/><rect x="599.70" y="848.14" width="21.42" height="18.91" fill="#00dfff"/><rect x="621.06" y="848.14" width="21.42" height="18.91" fill="#20ffdf"/><rect x="642.43" y="848.14" width="21.42" height="18.91" fill="#0080ff"/><rect x="65.50" y="867.00" width="21.42" height="18.91" fill="#00ffff"/><rect x="86.87" y="867.00" width="21.42" height="18.91" fill="#20ffdf"/><rect x="108.24" y="867.00" width="21.42" height="18.91" fill="#ffffff"/><rect x="129.60" y="867.00" width="21.42" height="18.91" fill="#40ffbf"/><rect x="150.97" y="867.00" width="21.42" height="18.91" fill="#ffffff"/><rect x="172.34" y="867.00" width="21.42" height="18.91" fill="#40ffbf"/><rect x="193.71" y="867.00" width="21.42" height="18.91" fill="#ffffff"/><rect x="215.07" y="867.00" width="21.42" height="18.91" fill="#009fff"/><rect x="236.44" y="867.00" width="21.42" height="18.91" fill="#ffffff"/><rect x="257.81" y="867.00" width="21.42" height="18.91" fill="#ffffff"/><rect x="279.18" y="867.00" width="21.42" height="18.91" fill="#ffffff"/><rect x="300.55" y="867.00" width="21.42" height="18.91" fill="#ffffff"/><rect x="321.91" y="867.00" width="21.42" height="18.91" fill="#00bfff"/><rect x="343.28" y="867.00" width="21.42" height="18.91" fill="#ffffff"/><rect x="364.65" y="867.00" width="21.42" height="18.91" fill="#00ffff"/><rect x="386.02" y="867.00" width="21.42" height="18.91" fill="#ffffff"/><rect x="407.39" y="867.00" width="21.42" height="18.91" fill="#ffffff"/><rect x="428.75" y="867.00" width="21.42" height="18.91" fill="#ffffff"/><rect x="450.12" y="867.00" width="21.42" height="18.91" fill="#ffffff"/><rect x="471.49" y="867.00" width="21.42" height="18.91" fill="#00dfff"/><rect x="492.86" y="867.00" width="21.42" height="18.91" fill="#0080ff"/><rect x="514.22" y="867.00" width="21.42" height="18.91" fill="#00ffff"/><rect x="535.59" y="867.00" width="21.42" height="18.91" fill="#0040ff"/><rect x="556.96" y="867.00" width="21.42" height="18.91" fill="#20ffdf"/><rect x="578.33" y="867.00" width="21.42" height="18.91" fill="#00ffff"/><rect x="599.70" y="867.00" width="21.42" height="18.91" fill="#00ffff"/><rect x="621.06" y="867.00" width="21.42" height="18.91" fill="#20ffdf"/><rect x="642.43" y="867.00" width="21.42" height="18.91" fill="#0080ff"/><rect x="65.50" y="885.86" width="21.42" height="18.91" fill="#00bfff"/><rect x="86.87" y="885.86" width="21.42" height="18.91" fill="#70ff8f"/><rect x="108.24" y="885.86" width="21.42" height="18.91" fill="#ffffff"/><rect x="129.60" y="885.86" width="21.42" height="18.91" fill="#00efff"/><rect x="150.97" y="885.86" width="21.42" height="18.91" fill="#ffffff"/><rect x="172.34" y="885.86" width="21.42" height="18.91" fill="#40ffbf"/><rect x="193.71" y="885.86" width="21.42" height="18.91" fill="#ffffff"/><rect x="215.07" y="885.86" width="21.42" height="18.91" fill="#ffffff"/><rect x="236.44" y="885.86" width="21.42" height="18.91" fill="#ffffff"/><rect x="257.81" y="885.86" width="21.42" height="18.91" fill="#ffffff"/><rect x="279.18" y="885.86" width="21.42" height="18.91" fill="#ffffff"/><rect x="300.55" y="885.86" width="21.42" height="18.91" fill="#ffffff"/><rect x="321.91" y="885.86" width="21.42" height="18.91" fill="#ffffff"/><rect x="343.28" y="885.86" width="21.42" height="18.91" fill="#40ffbf"/><rect x="364.65" y="885.86" width="21.42" height="18.91" fill="#00ffff"/><rect x="386.02" y="885.86" width="21.42" height="18.91" fill="#ffffff"/><rect x="407.39" y="885.86" width="21.42" height="18.91" fill="#ffffff"/><rect x="428.75" y="885.86" width="21.42" height="18.91" fill="#00dfff"/><rect x="450.12" y="885.86" width="21.42" height="18.91" fill="#ffffff"/><rect x="471.49" y="885.86" width="21.42" height="18.91" fill="#00bfff"/><rect x="492.86" y="885.86" width="21.42" height="18.91" fill="#00bfff"/><rect x="514.22" y="885.86" width="21.42" height="18.91" fill="#00ffff"/><rect x="535.59" y="885.86" width="21.42" height="18.91" fill="#0040ff"/><rect x="556.96" y="885.86" width="21.42" height="18.91" fill="#20ffdf"/><rect x="578.33" y="885.86" width="21.42" height="18.91" fill="#00ffff"/><rect x="599.70" y="885.86" width="21.42" height="18.91" fill="#00dfff"/><rect x="621.06" y="885.86" width="21.42" height="18.91" fill="#00dfff"/><rect x="642.43" y="885.86" width="21.42" height="18.91" fill="#00ffff"/><rect x="65.50" y="904.72" width="21.42" height="18.91" fill="#ffffff"/><rect x="86.87" y="904.72" width="21.42" height="18.91" fill="#20ffdf"/><rect x="108.24" y="904.72" width="21.42" height="18.91" fill="#ffffff"/><rect x="129.60" y="904.72" width="21.42" height="18.91" fill="#70ff8f"/><rect x="150.97" y="904.72" width="21.42" height="18.91" fill="#ffffff"/><rect x="172.34" y="904.72" width="21.42" height="18.91" fill="#40ffbf"/><rect x="193.71" y="904.72" width="21.42" height="18.91" fill="#20ffdf"/><rect x="215.07" y="904.72" width="21.42" height="18.91" fill="#00dfff"/><rect x="236.44" y="904.72" width="21.42" height="18.91" fill="#ffffff"/><rect x="257.81" y="904.72" width="21.42" height="18.91" fill="#ffffff"/><rect x="279.18" y="904.72" width="21.42" height="18.91" fill="#ffffff"/><rect x="300.55" y="904.72" width="21.42" height="18.91" fill="#ffffff"/><rect x="321.91" y="904.72" width="21.42" height="18.91" fill="#00bfff"/><rect x="343.28" y="904.72" width="21.42" height="18.91" fill="#00ffff"/><rect x="364.65" y="904.72" width="21.42" height="18.91" fill="#00ffff"/><rect x="386.02" y="904.72" width="21.42" height="18.91" fill="#ffffff"/><rect x="407.39" y="904.72" width="21.42" height="18.91" fill="#ffffff"/><rect x="428.75" y="904.72" width="21.42" height="18.91" fill="#009fff"/><rect x="450.12" y="904.72" width="21.42" height="18.91" fill="#00bfff"/><rect x="471.49" y="904.72" width="21.42" height="18.91" fill="#20ffdf"/><rect x="492.86" y="904.72" width="21.42" height="18.91" fill="#00bfff"/><rect x="514.22" y="904.72" width="21.42" height="18.91" fill="#00ffff"/><rect x="535.59" y="904.72" width="21.42" height="18.91" fill="#00bfff"/><rect x="556.96" y="904.72" width="21.42" height="18.91" fill="#40ffbf"/><rect x="578.33" y="904.72" width="21.42" height="18.91" fill="#20ffdf"/><rect x="599.70" y="904.72" width="21.42" height="18.91" fill="#00dfff"/><rect x="621.06" y="904.72" width="21.42" height="18.91" fill="#20ffdf"/><rect x="642.43" y="904.72" width="21.42" height="18.91" fill="#00ffff"/><rect x="65.50" y="923.59" width="21.42" height="18.91" fill="#ffffff"/><rect x="86.87" y="923.59" width="21.42" height="18.91" fill="#20ffdf"/><rect x="108.24" y="923.59" width="21.42" height="18.91" fill="#ffffff"/><rect x="129.60" y="923.59" width="21.42" height="18.91" fill="#70ff8f"/><rect x="150.97" y="923.59" width="21.42" height="18.91" fill="#ffffff"/><rect x="172.34" y="923.59" width="21.42" height="18.91" fill="#40ffbf"/><rect x="193.71" y="923.59" width="21.42" height="18.91" fill="#20ffdf"/><rect x="215.07" y="923.59" width="21.42" height="18.91" fill="#00bfff"/><rect x="236.44" y="923.59" width="21.42" height="18.91" fill="#ffffff"/><rect x="257.81" y="923.59" width="21.42" height="18.91" fill="#ffffff"/><rect x="279.18" y="923.59" width="21.42" height="18.91" fill="#ffffff"/><rect x="300.55" y="923.59" width="21.42" height="18.91" fill="#ffffff"/><rect x="321.91" y="923.59" width="21.42" height="18.91" fill="#00bfff"/><rect x="343.28" y="923.59" width="21.42" height="18.91" fill="#00ffff"/><rect x="364.65" y="923.59" width="21.42" height="18.91" fill="#00ffff"/><rect x="386.02" y="923.59" width="21.42" height="18.91" fill="#00ffff"/><rect x="407.39" y="923.59" width="21.42" height="18.91" fill="#ffffff"/><rect x="428.75" y="923.59" width="21.42" height="18.91" fill="#009fff"/><rect x="450.12" y="923.59" width="21.42" height="18.91" fill="#ffffff"/><rect x="471.49" y="923.59" width="21.42" height="18.91" fill="#00ffff"/><rect x="492.86" y="923.59" width="21.42" height="18.91" fill="#00bfff"/><rect x="514.22" y="923.59" width="21.42" height="18.91" fill="#00dfff"/><rect x="535.59" y="923.59" width="21.42" height="18.91" fill="#00bfff"/><rect x="556.96" y="923.59" width="21.42" height="18.91" fill="#20ffdf"/><rect x="578.33" y="923.59" width="21.42" height="18.91" fill="#00ffff"/><rect x="599.70" y="923.59" width="21.42" height="18.91" fill="#00bfff"/><rect x="621.06" y="923.59" width="21.42" height="18.91" fill="#20ffdf"/><rect x="642.43" y="923.59" width="21.42" height="18.91" fill="#009fff"/><rect x="65.50" y="942.45" width="21.42" height="18.91" fill="#ffffff"/><rect x="86.87" y="942.45" width="21.42" height="18.91" fill="#20ffdf"/><rect x="108.24" y="942.45" width="21.42" height="18.91" fill="#ffffff"/><rect x="129.60" y="942.45" width="21.42" height="18.91" fill="#70ff8f"/><rect x="150.97" y="942.45" width="21.42" height="18.91" fill="#ffffff"/><rect x="172.34" y="942.45" width="21.42" height="18.91" fill="#80ff80"/><rect x="193.71" y="942.45" width="21.42" height="18.91" fill="#ffffff"/><rect x="215.07" y="942.45" width="21.42" height="18.91" fill="#009fff"/><rect x="236.44" y="942.45" width="21.42" height="18.91" fill="#ffffff"/><rect x="257.81" y="942.45" width="21.42" height="18.91" fill="#ffffff"/><rect x="279.18" y="942.45" width="21.42" height="18.91" fill="#ffffff"/><rect x="300.55" y="942.45" width="21.42" height="18.91" fill="#ffffff"/><rect x="321.91" y="942.45" width="21.42" height="18.91" fill="#00bfff"/><rect x="343.28" y="942.45" width="21.42" height="18.91" fill="#00ffff"/><rect x="364.65" y="942.45" width="21.42" height="18.91" fill="#00ffff"/><rect x="386.02" y="942.45" width="21.42" height="18.91" fill="#00bfff"/><rect x="407.39" y="942.45" width="21.42" height="18.91" fill="#ffffff"/><rect x="428.75" y="942.45" width="21.42" height="18.91" fill="#ffffff"/><rect x="450.12" y="942.45" width="21.42" height="18.91" fill="#0060ff"/><rect x="471.49" y="942.45" width="21.42" height="18.91" fill="#00bfff"/><rect x="492.86" y="942.45" width="21.42" height="18.91" fill="#0080ff"/><rect x="514.22" y="942.45" width="21.42" height="18.91" fill="#009fff"/><rect x="535.59" y="942.45" width="21.42" height="18.91" fill="#009fff"/><rect x="556.96" y="942.45" width="21.42" height="18.91" fill="#20ffdf"/><rect x="578.33" y="942.45" width="21.42" height="18.91" fill="#00bfff"/><rect x="599.70" y="942.45" width="21.42" height="18.91" fill="#009fff"/><rect x="621.06" y="942.45" width="21.42" height="18.91" fill="#00ffff"/><rect x="642.43" y="942.45" width="21.42" height="18.91" fill="#0060ff"/><rect x="65.50" y="961.31" width="21.42" height="18.91" fill="#00ffff"/><rect x="86.87" y="961.31" width="21.42" height="18.91" fill="#20ffdf"/><rect x="108.24" y="961.31" width="21.42" height="18.91" fill="#ffffff"/><rect x="129.60" y="961.31" width="21.42" height="18.91" fill="#40ffbf"/><rect x="150.97" y="961.31" width="21.42" height="18.91" fill="#ffffff"/><rect x="172.34" y="961.31" width="21.42" height="18.91" fill="#ffffff"/><rect x="193.71" y="961.31" width="21.42" height="18.91" fill="#20ffdf"/><rect x="215.07" y="961.31" width="21.42" height="18.91" fill="#009fff"/><rect x="236.44" y="961.31" width="21.42" height="18.91" fill="#ffffff"/><rect x="257.81" y="961.31" width="21.42" height="18.91" fill="#ffffff"/><rect x="279.18" y="961.31" width="21.42" height="18.91" fill="#ffffff"/><rect x="300.55" y="961.31" width="21.42" height="18.91" fill="#ffffff"/><rect x="321.91" y="961.31" width="21.42" height="18.91" fill="#00ffff"/><rect x="343.28" y="961.31" width="21.42" height="18.91" fill="#40ffbf"/><rect x="364.65" y="961.31" width="21.42" height="18.91" fill="#00ffff"/><rect x="386.02" y="961.31" width="21.42" height="18.91" fill="#ffffff"/><rect x="407.39" y="961.31" width="21.42" height="18.91" fill="#ffffff"/><rect x="428.75" y="961.31" width="21.42" height="18.91" fill="#00dfff"/><rect x="450.12" y="961.31" width="21.42" height="18.91" fill="#ffffff"/><rect x="471.49" y="961.31" width="21.42" height="18.91" fill="#00dfff"/><rect x="492.86" y="961.31" width="21.42" height="18.91" fill="#0080ff"/><rect x="514.22" y="961.31" width="21.42" height="18.91" fill="#0040ff"/><rect x="535.59" y="961.31" width="21.42" height="18.91" fill="#009fff"/><rect x="556.96" y="961.31" width="21.42" height="18.91" fill="#00ffff"/><rect x="578.33" y="961.31" width="21.42" height="18.91" fill="#009fff"/><rect x="599.70" y="961.31" width="21.42" height="18.91" fill="#00bfff"/><rect x="621.06" y="961.31" width="21.42" height="18.91" fill="#00ffff"/><rect x="642.43" y="961.31" width="21.42" height="18.91" fill="#009fff"/><rect x="65.50" y="980.17" width="21.42" height="18.91" fill="#ffffff"/><rect x="86.87" y="980.17" width="21.42" height="18.91" fill="#20ffdf"/><rect x="108.24" y="980.17" width="21.42" height="18.91" fill="#ffffff"/><rect x="129.60" y="980.17" width="21.42" height="18.91" fill="#40ffbf"/><rect x="150.97" y="980.17" width="21.42" height="18.91" fill="#ffffff"/><rect x="172.34" y="980.17" width="21.42" height="18.91" fill="#40ffbf"/><rect x="193.71" y="980.17" width="21.42" height="18.91" fill="#20ffdf"/><rect x="215.07" y="980.17" width="21.42" height="18.91" fill="#009fff"/><rect x="236.44" y="980.17" width="21.42" height="18.91" fill="#ffffff"/><rect x="257.81" y="980.17" width="21.42" height="18.91" fill="#ffffff"/><rect x="279.18" y="980.17" width="21.42" height="18.91" fill="#ffffff"/><rect x="300.55" y="980.17" width="21.42" height="18.91" fill="#ffffff"/><rect x="321.91" y="980.17" width="21.42" height="18.91" fill="#20ffdf"/><rect x="343.28" y="980.17" width="21.42" height="18.91" fill="#40ffbf"/><rect x="364.65" y="980.17" width="21.42" height="18.91" fill="#00ffff"/><rect x="386.02" y="980.17" width="21.42" height="18.91" fill="#00bfff"/><rect x="407.39" y="980.17" width="21.42" height="18.91" fill="#60ff9f"/><rect x="428.75" y="980.17" width="21.42" height="18.91" fill="#ffffff"/><rect x="450.12" y="980.17" width="21.42" height="18.91" fill="#ffffff"/><rect x="471.49" y="980.17" width="21.42" height="18.91" fill="#00ffff"/><rect x="492.86" y="980.17" width="21.42" height="18.91" fill="#00dfff"/><rect x="514.22" y="980.17" width="21.42" height="18.91" fill="#0080ff"/><rect x="535.59" y="980.17" width="21.42" height="18.91" fill="#00bfff"/><rect x="556.96" y="980.17" width="21.42" height="18.91" fill="#20ffdf"/><rect x="578.33" y="980.17" width="21.42" height="18.91" fill="#00bfff"/><rect x="599.70" y="980.17" width="21.42" height="18.91" fill="#00dfff"/><rect x="621.06" y="980.17" width="21.42" height="18.91" fill="#00ffff"/><rect x="642.43" y="980.17" width="21.42" height="18.91" fill="#00bfff"/><rect x="65.50" y="999.03" width="21.42" height="18.91" fill="#00bfff"/><rect x="86.87" y="999.03" width="21.42" height="18.91" fill="#20ffdf"/><rect x="108.24" y="999.03" width="21.42" height="18.91" fill="#ffffff"/><rect x="129.60" y="999.03" width="21.42" height="18.91" fill="#00ffff"/><rect x="150.97" y="999.03" width="21.42" height="18.91" fill="#ffffff"/><rect x="172.34" y="999.03" width="21.42" height="18.91" fill="#40ffbf"/><rect x="193.71" y="999.03" width="21.42" height="18.91" fill="#ffffff"/><rect x="215.07" y="999.03" width="21.42" height="18.91" fill="#009fff"/><rect x="236.44" y="999.03" width="21.42" height="18.91" fill="#ffffff"/><rect x="257.81" y="999.03" width="21.42" height="18.91" fill="#ffffff"/><rect x="279.18" y="999.03" width="21.42" height="18.91" fill="#ffffff"/><rect x="300.55" y="999.03" width="21.42" height="18.91" fill="#ffffff"/><rect x="321.91" y="999.03" width="21.42" height="18.91" fill="#00bfff"/><rect x="343.28" y="999.03" width="21.42" height="18.91" fill="#40ffbf"/><rect x="364.65" y="999.03" width="21.42" height="18.91" fill="#00ffff"/><rect x="386.02" y="999.03" width="21.42" height="18.91" fill="#00bfff"/><rect x="407.39" y="999.03" width="21.42" height="18.91" fill="#ffffff"/><rect x="428.75" y="999.03" width="21.42" height="18.91" fill="#00bfff"/><rect x="450.12" y="999.03" width="21.42" height="18.91" fill="#ffffff"/><rect x="471.49" y="999.03" width="21.42" height="18.91" fill="#0080ff"/><rect x="492.86" y="999.03" width="21.42" height="18.91" fill="#00bfff"/><rect x="514.22" y="999.03" width="21.42" height="18.91" fill="#0080ff"/><rect x="535.59" y="999.03" width="21.42" height="18.91" fill="#0080ff"/><rect x="556.96" y="999.03" width="21.42" height="18.91" fill="#00ffff"/><rect x="578.33" y="999.03" width="21.42" height="18.91" fill="#ffffff"/><rect x="599.70" y="999.03" width="21.42" height="18.91" fill="#0080ff"/><rect x="621.06" y="999.03" width="21.42" height="18.91" fill="#00dfff"/><rect x="642.43" y="999.03" width="21.42" height="18.91" fill="#ffffff"/><rect x="65.50" y="1017.90" width="21.42" height="18.91" fill="#ffffff"/><rect x="86.87" y="1017.90" width="21.42" height="18.91" fill="#20ffdf"/><rect x="108.24" y="1017.90" width="21.42" height="18.91" fill="#ffffff"/><rect x="129.60" y="1017.90" width="21.42" height="18.91" fill="#ffffff"/><rect x="150.97" y="1017.90" width="21.42" height="18.91" fill="#ffffff"/><rect x="172.34" y="1017.90" width="21.42" height="18.91" fill="#ffffff"/><rect x="193.71" y="1017.90" width="21.42" height="18.91" fill="#20ffdf"/><rect x="215.07" y="1017.90" width="21.42" height="18.91" fill="#00bfff"/><rect x="236.44" y="1017.90" width="21.42" height="18.91" fill="#ffffff"/><rect x="257.81" y="1017.90" width="21.42" height="18.91" fill="#ffffff"/><rect x="279.18" y="1017.90" width="21.42" height="18.91" fill="#ffffff"/><rect x="300.55" y="1017.90" width="21.42" height="18.91" fill="#20ffdf"/><rect x="321.91" y="1017.90" width="21.42" height="18.91" fill="#20ffdf"/><rect x="343.28" y="1017.90" width="21.42" height="18.91" fill="#80ff80"/><rect x="364.65" y="1017.90" width="21.42" height="18.91" fill="#ffffff"/><rect x="386.02" y="1017.90" width="21.42" height="18.91" fill="#60ff9f"/><rect x="407.39" y="1017.90" width="21.42" height="18.91" fill="#ffffff"/><rect x="428.75" y="1017.90" width="21.42" height="18.91" fill="#ffffff"/><rect x="450.12" y="1017.90" width="21.42" height="18.91" fill="#00bfff"/><rect x="471.49" y="1017.90" width="21.42" height="18.91" fill="#20ffdf"/><rect x="492.86" y="1017.90" width="21.42" height="18.91" fill="#00dfff"/><rect x="514.22" y="1017.90" width="21.42" height="18.91" fill="#0080ff"/><rect x="535.59" y="1017.90" width="21.42" height="18.91" fill="#00dfff"/><rect x="556.96" y="1017.90" width="21.42" height="18.91" fill="#20ffdf"/><rect x="578.33" y="1017.90" width="21.42" height="18.91" fill="#20ffdf"/><rect x="599.70" y="1017.90" width="21.42" height="18.91" fill="#00dfff"/><rect x="621.06" y="1017.90" width="21.42" height="18.91" fill="#00ffff"/><rect x="642.43" y="1017.90" width="21.42" height="18.91" fill="#00ffff"/><rect x="65.50" y="1036.76" width="21.42" height="18.91" fill="#dfff20"/><rect x="86.87" y="1036.76" width="21.42" height="18.91" fill="#9fff60"/><rect x="108.24" y="1036.76" width="21.42" height="18.91" fill="#ffffff"/><rect x="129.60" y="1036.76" width="21.42" height="18.91" fill="#ffff00"/><rect x="150.97" y="1036.76" width="21.42" height="18.91" fill="#ffffff"/><rect x="172.34" y="1036.76" width="21.42" height="18.91" fill="#ffffff"/><rect x="193.71" y="1036.76" width="21.42" height="18.91" fill="#60ff9f"/><rect x="215.07" y="1036.76" width="21.42" height="18.91" fill="#0060ff"/><rect x="236.44" y="1036.76" width="21.42" height="18.91" fill="#ffffff"/><rect x="257.81" y="1036.76" width="21.42" height="18.91" fill="#9fff60"/><rect x="279.18" y="1036.76" width="21.42" height="18.91" fill="#20ffdf"/><rect x="300.55" y="1036.76" width="21.42" height="18.91" fill="#dfff20"/><rect x="321.91" y="1036.76" width="21.42" height="18.91" fill="#60ff9f"/><rect x="343.28" y="1036.76" width="21.42" height="18.91" fill="#60ff9f"/><rect x="364.65" y="1036.76" width="21.42" height="18.91" fill="#40ffbf"/><rect x="386.02" y="1036.76" width="21.42" height="18.91" fill="#9fff60"/><rect x="407.39" y="1036.76" width="21.42" height="18.91" fill="#40ffbf"/><rect x="428.75" y="1036.76" width="21.42" height="18.91" fill="#60ff9f"/><rect x="450.12" y="1036.76" width="21.42" height="18.91" fill="#00ffff"/><rect x="471.49" y="1036.76" width="21.42" height="18.91" fill="#60ff9f"/><rect x="492.86" y="1036.76" width="21.42" height="18.91" fill="#40ffbf"/><rect x="514.22" y="1036.76" width="21.42" height="18.91" fill="#00dfff"/><rect x="535.59" y="1036.76" width="21.42" height="18.91" fill="#20ffdf"/><rect x="556.96" y="1036.76" width="21.42" height="18.91" fill="#40ffbf"/><rect x="578.33" y="1036.76" width="21.42" height="18.91" fill="#60ff9f"/><rect x="599.70" y="1036.76" width="21.42" height="18.91" fill="#40ffbf"/><rect x="621.06" y="1036.76" width="21.42" height="18.91" fill="#80ff80"/><rect x="642.43" y="1036.76" width="21.42" height="18.91" fill="#60ff9f"/><rect x="65.50" y="1055.62" width="21.42" height="18.91" fill="#bfff40"/><rect x="86.87" y="1055.62" width="21.42" height="18.91" fill="#20ffdf"/><rect x="108.24" y="1055.62" width="21.42" height="18.91" fill="#9fff60"/><rect x="129.60" y="1055.62" width="21.42" height="18.91" fill="#dfff20"/><rect x="150.97" y="1055.62" width="21.42" height="18.91" fill="#ffdf00"/><rect x="172.34" y="1055.62" width="21.42" height="18.91" fill="#ffffff"/><rect x="193.71" y="1055.62" width="21.42" height="18.91" fill="#ffffff"/><rect x="215.07" y="1055.62" width="21.42" height="18.91" fill="#0060ff"/><rect x="236.44" y="1055.62" width="21.42" height="18.91" fill="#ffffff"/><rect x="257.81" y="1055.62" width="21.42" height="18.91" fill="#ffffff"/><rect x="279.18" y="1055.62" width="21.42" height="18.91" fill="#ffffff"/><rect x="300.55" y="1055.62" width="21.42" height="18.91" fill="#ffbf00"/><rect x="321.91" y="1055.62" width="21.42" height="18.91" fill="#dfff20"/><rect x="343.28" y="1055.62" width="21.42" height="18.91" fill="#40ffbf"/><rect x="364.65" y="1055.62" width="21.42" height="18.91" fill="#00ffff"/><rect x="386.02" y="1055.62" width="21.42" height="18.91" fill="#80ff80"/><rect x="407.39" y="1055.62" width="21.42" height="18.91" fill="#ffffff"/><rect x="428.75" y="1055.62" width="21.42" height="18.91" fill="#80ff80"/><rect x="450.12" y="1055.62" width="21.42" height="18.91" fill="#00bfff"/><rect x="471.49" y="1055.62" width="21.42" height="18.91" fill="#60ff9f"/><rect x="492.86" y="1055.62" width="21.42" height="18.91" fill="#40ffbf"/><rect x="514.22" y="1055.62" width="21.42" height="18.91" fill="#00dfff"/><rect x="535.59" y="1055.62" width="21.42" height="18.91" fill="#20ffdf"/><rect x="556.96" y="1055.62" width="21.42" height="18.91" fill="#60ff9f"/><rect x="578.33" y="1055.62" width="21.42" height="18.91" fill="#00ffff"/><rect x="599.70" y="1055.62" width="21.42" height="18.91" fill="#40ffbf"/><rect x="621.06" y="1055.62" width="21.42" height="18.91" fill="#9fff60"/><rect x="642.43" y="1055.62" width="21.42" height="18.91" fill="#00ffff"/><rect x="65.50" y="1074.48" width="21.42" height="18.91" fill="#ffffff"/><rect x="86.87" y="1074.48" width="21.42" height="18.91" fill="#ffffff"/><rect x="108.24" y="1074.48" width="21.42" height="18.91" fill="#ffffff"/><rect x="129.60" y="1074.48" width="21.42" height="18.91" fill="#ffffff"/><rect x="150.97" y="1074.48" width="21.42" height="18.91" fill="#ffffff"/><rect x="172.34" y="1074.48" width="21.42" height="18.91" fill="#ffffff"/><rect x="193.71" y="1074.48" width="21.42" height="18.91" fill="#ffffff"/><rect x="215.07" y="1074.48" width="21.42" height="18.91" fill="#ffffff"/><rect x="236.44" y="1074.48" width="21.42" height="18.91" fill="#ffffff"/><rect x="257.81" y="1074.48" width="21.42" height="18.91" fill="#ffffff"/><rect x="279.18" y="1074.48" width="21.42" height="18.91" fill="#ffffff"/><rect x="300.55" y="1074.48" width="21.42" height="18.91" fill="#ffffff"/><rect x="321.91" y="1074.48" width="21.42" height="18.91" fill="#00bfff"/><rect x="343.28" y="1074.48" width="21.42" height="18.91" fill="#00ffff"/><rect x="364.65" y="1074.48" width="21.42" height="18.91" fill="#ffffff"/><rect x="386.02" y="1074.48" width="21.42" height="18.91" fill="#ffffff"/><rect x="407.39" y="1074.48" width="21.42" height="18.91" fill="#ffffff"/><rect x="428.75" y="1074.48" width="21.42" height="18.91" fill="#ffffff"/><rect x="450.12" y="1074.48" width="21.42" height="18.91" fill="#ffffff"/><rect x="471.49" y="1074.48" width="21.42" height="18.91" fill="#0080ff"/><rect x="492.86" y="1074.48" width="21.42" height="18.91" fill="#ffffff"/><rect x="514.22" y="1074.48" width="21.42" height="18.91" fill="#0040ff"/><rect x="535.59" y="1074.48" width="21.42" height="18.91" fill="#ffffff"/><rect x="556.96" y="1074.48" width="21.42" height="18.91" fill="#ffffff"/><rect x="578.33" y="1074.48" width="21.42" height="18.91" fill="#009fff"/><rect x="599.70" y="1074.48" width="21.42" height="18.91" fill="#ffffff"/><rect x="621.06" y="1074.48" width="21.42" height="18.91" fill="#0020ff"/><rect x="642.43" y="1074.48" width="21.42" height="18.91" fill="#ffffff"/><rect x="65.50" y="1093.34" width="21.42" height="18.91" fill="#ffffff"/><rect x="86.87" y="1093.34" width="21.42" height="18.91" fill="#ffffff"/><rect x="108.24" y="1093.34" width="21.42" height="18.91" fill="#ffffff"/><rect x="129.60" y="1093.34" width="21.42" height="18.91" fill="#00ffff"/><rect x="150.97" y="1093.34" width="21.42" height="18.91" fill="#9fff60"/><rect x="172.34" y="1093.34" width="21.42" height="18.91" fill="#40ffbf"/><rect x="193.71" y="1093.34" width="21.42" height="18.91" fill="#20ffdf"/><rect x="215.07" y="1093.34" width="21.42" height="18.91" fill="#ffffff"/><rect x="236.44" y="1093.34" width="21.42" height="18.91" fill="#ffffff"/><rect x="257.81" y="1093.34" width="21.42" height="18.91" fill="#ffffff"/><rect x="279.18" y="1093.34" width="21.42" height="18.91" fill="#ffffff"/><rect x="300.55" y="1093.34" width="21.42" height="18.91" fill="#ffffff"/><rect x="321.91" y="1093.34" width="21.42" height="18.91" fill="#00bfff"/><rect x="343.28" y="1093.34" width="21.42" height="18.91" fill="#00ffff"/><rect x="364.65" y="1093.34" width="21.42" height="18.91" fill="#ffffff"/><rect x="386.02" y="1093.34" width="21.42" height="18.91" fill="#ffffff"/><rect x="407.39" y="1093.34" width="21.42" height="18.91" fill="#ffffff"/><rect x="428.75" y="1093.34" width="21.42" height="18.91" fill="#ffffff"/><rect x="450.12" y="1093.34" width="21.42" height="18.91" fill="#ffffff"/><rect x="471.49" y="1093.34" width="21.42" height="18.91" fill="#00bfff"/><rect x="492.86" y="1093.34" width="21.42" height="18.91" fill="#0040ff"/><rect x="514.22" y="1093.34" width="21.42" height="18.91" fill="#0040ff"/><rect x="535.59" y="1093.34" width="21.42" height="18.91" fill="#ffffff"/><rect x="556.96" y="1093.34" width="21.42" height="18.91" fill="#00009f"/><rect x="578.33" y="1093.34" width="21.42" height="18.91" fill="#ffffff"/><rect x="599.70" y="1093.34" width="21.42" height="18.91" fill="#0000ff"/><rect x="621.06" y="1093.34" width="21.42" height="18.91" fill="#0080ff"/><rect x="642.43" y="1093.34" width="21.42" height="18.91" fill="#0060ff"/><rect x="65.50" y="1112.20" width="21.42" height="18.91" fill="#00ffff"/><rect x="86.87" y="1112.20" width="21.42" height="18.91" fill="#ffffff"/><rect x="108.24" y="1112.20" width="21.42" height="18.91" fill="#ffffff"/><rect x="129.60" y="1112.20" width="21.42" height="18.91" fill="#00ffff"/><rect x="150.97" y="1112.20" width="21.42" height="18.91" fill="#dfff20"/><rect x="172.34" y="1112.20" width="21.42" height="18.91" fill="#40ffbf"/><rect x="193.71" y="1112.20" width="21.42" height="18.91" fill="#ffffff"/><rect x="215.07" y="1112.20" width="21.42" height="18.91" fill="#ffffff"/><rect x="236.44" y="1112.20" width="21.42" height="18.91" fill="#ffffff"/><rect x="257.81" y="1112.20" width="21.42" height="18.91" fill="#ffffff"/><rect x="279.18" y="1112.20" width="21.42" height="18.91" fill="#ffffff"/><rect x="300.55" y="1112.20" width="21.42" height="18.91" fill="#20ffdf"/><rect x="321.91" y="1112.20" width="21.42" height="18.91" fill="#00ffff"/><rect x="343.28" y="1112.20" width="21.42" height="18.91" fill="#ffffff"/><rect x="364.65" y="1112.20" width="21.42" height="18.91" fill="#ffffff"/><rect x="386.02" y="1112.20" width="21.42" height="18.91" fill="#00ffff"/><rect x="407.39" y="1112.20" width="21.42" height="18.91" fill="#ffffff"/><rect x="428.75" y="1112.20" width="21.42" height="18.91" fill="#00bfff"/><rect x="450.12" y="1112.20" width="21.42" height="18.91" fill="#ffffff"/><rect x="471.49" y="1112.20" width="21.42" height="18.91" fill="#00bfff"/><rect x="492.86" y="1112.20" width="21.42" height="18.91" fill="#0000ff"/><rect x="514.22" y="1112.20" width="21.42" height="18.91" fill="#ffffff"/><rect x="535.59" y="1112.20" width="21.42" height="18.91" fill="#0000df"/><rect x="556.96" y="1112.20" width="21.42" height="18.91" fill="#0000ff"/><rect x="578.33" y="1112.20" width="21.42" height="18.91" fill="#ffffff"/><rect x="599.70" y="1112.20" width="21.42" height="18.91" fill="#ffffff"/><rect x="621.06" y="1112.20" width="21.42" height="18.91" fill="#009fff"/><rect x="642.43" y="1112.20" width="21.42" height="18.91" fill="#ffffff"/><rect x="65.50" y="1131.07" width="21.42" height="18.91" fill="#ffffff"/><rect x="86.87" y="1131.07" width="21.42" height="18.91" fill="#ffffff"/><rect x="108.24" y="1131.07" width="21.42" height="18.91" fill="#ffffff"/><rect x="129.60" y="1131.07" width="21.42" height="18.91" fill="#60ff9f"/><rect x="150.97" y="1131.07" width="21.42" height="18.91" fill="#9fff60"/><rect x="172.34" y="1131.07" width="21.42" height="18.91" fill="#ffffff"/><rect x="193.71" y="1131.07" width="21.42" height="18.91" fill="#ffffff"/><rect x="215.07" y="1131.07" width="21.42" height="18.91" fill="#ffffff"/><rect x="236.44" y="1131.07" width="21.42" height="18.91" fill="#ffffff"/><rect x="257.81" y="1131.07" width="21.42" height="18.91" fill="#ffffff"/><rect x="279.18" y="1131.07" width="21.42" height="18.91" fill="#ffffff"/><rect x="300.55" y="1131.07" width="21.42" height="18.91" fill="#20ffdf"/><rect x="321.91" y="1131.07" width="21.42" height="18.91" fill="#00ffff"/><rect x="343.28" y="1131.07" width="21.42" height="18.91" fill="#ffffff"/><rect x="364.65" y="1131.07" width="21.42" height="18.91" fill="#ffffff"/><rect x="386.02" y="1131.07" width="21.42" height="18.91" fill="#ffffff"/><rect x="407.39" y="1131.07" width="21.42" height="18.91" fill="#ffffff"/><rect x="428.75" y="1131.07" width="21.42" height="18.91" fill="#00ffff"/><rect x="450.12" y="1131.07" width="21.42" height="18.91" fill="#ffffff"/><rect x="471.49" y="1131.07" width="21.42" height="18.91" fill="#ffffff"/><rect x="492.86" y="1131.07" width="21.42" height="18.91" fill="#ffffff"/><rect x="514.22" y="1131.07" width="21.42" height="18.91" fill="#ffffff"/><rect x="535.59" y="1131.07" width="21.42" height="18.91" fill="#ffffff"/><rect x="556.96" y="1131.07" width="21.42" height="18.91" fill="#ffffff"/><rect x="578.33" y="1131.07" width="21.42" height="18.91" fill="#ffffff"/><rect x="599.70" y="1131.07" width="21.42" height="18.91" fill="#0000ff"/><rect x="621.06" y="1131.07" width="21.42" height="18.91" fill="#0060ff"/><rect x="642.43" y="1131.07" width="21.42" height="18.91" fill="#ffffff"/><rect x="65.50" y="1149.93" width="21.42" height="18.91" fill="#00ffff"/><rect x="86.87" y="1149.93" width="21.42" height="18.91" fill="#20ffdf"/><rect x="108.24" y="1149.93" width="21.42" height="18.91" fill="#ffffff"/><rect x="129.60" y="1149.93" width="21.42" height="18.91" fill="#60ff9f"/><rect x="150.97" y="1149.93" width="21.42" height="18.91" fill="#9fff60"/><rect x="172.34" y="1149.93" width="21.42" height="18.91" fill="#ffffff"/><rect x="193.71" y="1149.93" width="21.42" height="18.91" fill="#ffffff"/><rect x="215.07" y="1149.93" width="21.42" height="18.91" fill="#40ffbf"/><rect x="236.44" y="1149.93" width="21.42" height="18.91" fill="#ffffff"/><rect x="257.81" y="1149.93" width="21.42" height="18.91" fill="#ffffff"/><rect x="279.18" y="1149.93" width="21.42" height="18.91" fill="#ffffff"/><rect x="300.55" y="1149.93" width="21.42" height="18.91" fill="#ffffff"/><rect x="321.91" y="1149.93" width="21.42" height="18.91" fill="#20ffdf"/><rect x="343.28" y="1149.93" width="21.42" height="18.91" fill="#ffffff"/><rect x="364.65" y="1149.93" width="21.42" height="18.91" fill="#00ffff"/><rect x="386.02" y="1149.93" width="21.42" height="18.91" fill="#20ffdf"/><rect x="407.39" y="1149.93" width="21.42" height="18.91" fill="#40ffbf"/><rect x="428.75" y="1149.93" width="21.42" height="18.91" fill="#00ffff"/><rect x="450.12" y="1149.93" width="21.42" height="18.91" fill="#ffffff"/><rect x="471.49" y="1149.93" width="21.42" height="18.91" fill="#0080ff"/><rect x="492.86" y="1149.93" width="21.42" height="18.91" fill="#0040ff"/><rect x="514.22" y="1149.93" width="21.42" height="18.91" fill="#0040ff"/><rect x="535.59" y="1149.93" width="21.42" height="18.91" fill="#0020ff"/><rect x="556.96" y="1149.93" width="21.42" height="18.91" fill="#0000df"/><rect x="578.33" y="1149.93" width="21.42" height="18.91" fill="#ffffff"/><rect x="599.70" y="1149.93" width="21.42" height="18.91" fill="#0000ff"/><rect x="621.06" y="1149.93" width="21.42" height="18.91" fill="#0080ff"/><rect x="642.43" y="1149.93" width="21.42" height="18.91" fill="#ffffff"/><rect x="65.50" y="1168.79" width="21.42" height="18.91" fill="#80ff80"/><rect x="86.87" y="1168.79" width="21.42" height="18.91" fill="#ffffff"/><rect x="108.24" y="1168.79" width="21.42" height="18.91" fill="#60ff9f"/><rect x="129.60" y="1168.79" width="21.42" height="18.91" fill="#9fff60"/><rect x="150.97" y="1168.79" width="21.42" height="18.91" fill="#ffff00"/><rect x="172.34" y="1168.79" width="21.42" height="18.91" fill="#ffffff"/><rect x="193.71" y="1168.79" width="21.42" height="18.91" fill="#ffffff"/><rect x="215.07" y="1168.79" width="21.42" height="18.91" fill="#ffffff"/><rect x="236.44" y="1168.79" width="21.42" height="18.91" fill="#ffffff"/><rect x="257.81" y="1168.79" width="21.42" height="18.91" fill="#ffffff"/><rect x="279.18" y="1168.79" width="21.42" height="18.91" fill="#ffffff"/><rect x="300.55" y="1168.79" width="21.42" height="18.91" fill="#bfff40"/><rect x="321.91" y="1168.79" width="21.42" height="18.91" fill="#80ff80"/><rect x="343.28" y="1168.79" width="21.42" height="18.91" fill="#ffffff"/><rect x="364.65" y="1168.79" width="21.42" height="18.91" fill="#ffffff"/><rect x="386.02" y="1168.79" width="21.42" height="18.91" fill="#80ff80"/><rect x="407.39" y="1168.79" width="21.42" height="18.91" fill="#ffffff"/><rect x="428.75" y="1168.79" width="21.42" height="18.91" fill="#00dfff"/><rect x="450.12" y="1168.79" width="21.42" height="18.91" fill="#00bfff"/><rect x="471.49" y="1168.79" width="21.42" height="18.91" fill="#20ffdf"/><rect x="492.86" y="1168.79" width="21.42" height="18.91" fill="#00dfff"/><rect x="514.22" y="1168.79" width="21.42" height="18.91" fill="#0040ff"/><rect x="535.59" y="1168.79" width="21.42" height="18.91" fill="#0080ff"/><rect x="556.96" y="1168.79" width="21.42" height="18.91" fill="#00ffff"/><rect x="578.33" y="1168.79" width="21.42" height="18.91" fill="#40ffbf"/><rect x="599.70" y="1168.79" width="21.42" height="18.91" fill="#00ffff"/><rect x="621.06" y="1168.79" width="21.42" height="18.91" fill="#9fff60"/><rect x="642.43" y="1168.79" width="21.42" height="18.91" fill="#0060ff"/><rect x="65.50" y="1187.65" width="21.42" height="18.91" fill="#ff4000"/><rect x="86.87" y="1187.65" width="21.42" height="18.91" fill="#ff6000"/><rect x="108.24" y="1187.65" width="21.42" height="18.91" fill="#ff8000"/><rect x="129.60" y="1187.65" width="21.42" height="18.91" fill="#ff0000"/><rect x="150.97" y="1187.65" width="21.42" height="18.91" fill="#ff2000"/><rect x="172.34" y="1187.65" width="21.42" height="18.91" fill="#ff8000"/><rect x="193.71" y="1187.65" width="21.42" height="18.91" fill="#ff8000"/><rect x="215.07" y="1187.65" width="21.42" height="18.91" fill="#ff8000"/><rect x="236.44" y="1187.65" width="21.42" height="18.91" fill="#ff8000"/><rect x="257.81" y="1187.65" width="21.42" height="18.91" fill="#ff6000"/><rect x="279.18" y="1187.65" width="21.42" height="18.91" fill="#ff6000"/><rect x="300.55" y="1187.65" width="21.42" height="18.91" fill="#ff4000"/><rect x="321.91" y="1187.65" width="21.42" height="18.91" fill="#ff8000"/><rect x="343.28" y="1187.65" width="21.42" height="18.91" fill="#ff8000"/><rect x="364.65" y="1187.65" width="21.42" height="18.91" fill="#ff8000"/><rect x="386.02" y="1187.65" width="21.42" height="18.91" fill="#ff4000"/><rect x="407.39" y="1187.65" width="21.42" height="18.91" fill="#ff9f00"/><rect x="428.75" y="1187.65" width="21.42" height="18.91" fill="#ff4000"/><rect x="450.12" y="1187.65" width="21.42" height="18.91" fill="#ff9f00"/><rect x="471.49" y="1187.65" width="21.42" height="18.91" fill="#ff2000"/><rect x="492.86" y="1187.65" width="21.42" height="18.91" fill="#ff6000"/><rect x="514.22" y="1187.65" width="21.42" height="18.91" fill="#ffdf00"/><rect x="535.59" y="1187.65" width="21.42" height="18.91" fill="#ffff00"/><rect x="556.96" y="1187.65" width="21.42" height="18.91" fill="#ff9f00"/><rect x="578.33" y="1187.65" width="21.42" height="18.91" fill="#ffdf00"/><rect x="599.70" y="1187.65" width="21.42" height="18.91" fill="#ff6000"/><rect x="621.06" y="1187.65" width="21.42" height="18.91" fill="#ff2000"/><rect x="642.43" y="1187.65" width="21.42" height="18.91" fill="#ff9f00"/><rect x="65.50" y="1206.51" width="21.42" height="18.91" fill="#ffdf00"/><rect x="86.87" y="1206.51" width="21.42" height="18.91" fill="#ffffff"/><rect x="108.24" y="1206.51" width="21.42" height="18.91" fill="#ffffff"/><rect x="129.60" y="1206.51" width="21.42" height="18.91" fill="#80ff80"/><rect x="150.97" y="1206.51" width="21.42" height="18.91" fill="#dfff20"/><rect x="172.34" y="1206.51" width="21.42" height="18.91" fill="#80ff80"/><rect x="193.71" y="1206.51" width="21.42" height="18.91" fill="#20ffdf"/><rect x="215.07" y="1206.51" width="21.42" height="18.91" fill="#0060ff"/><rect x="236.44" y="1206.51" width="21.42" height="18.91" fill="#ffffff"/><rect x="257.81" y="1206.51" width="21.42" height="18.91" fill="#9fff60"/><rect x="279.18" y="1206.51" width="21.42" height="18.91" fill="#80ff80"/><rect x="300.55" y="1206.51" width="21.42" height="18.91" fill="#bfff40"/><rect x="321.91" y="1206.51" width="21.42" height="18.91" fill="#80ff80"/><rect x="343.28" y="1206.51" width="21.42" height="18.91" fill="#00ffff"/><rect x="364.65" y="1206.51" width="21.42" height="18.91" fill="#00ffff"/><rect x="386.02" y="1206.51" width="21.42" height="18.91" fill="#ffdf00"/><rect x="407.39" y="1206.51" width="21.42" height="18.91" fill="#60ff9f"/><rect x="428.75" y="1206.51" width="21.42" height="18.91" fill="#bfff40"/><rect x="450.12" y="1206.51" width="21.42" height="18.91" fill="#00dfff"/><rect x="471.49" y="1206.51" width="21.42" height="18.91" fill="#20ffdf"/><rect x="492.86" y="1206.51" width="21.42" height="18.91" fill="#40ffbf"/><rect x="514.22" y="1206.51" width="21.42" height="18.91" fill="#00dfff"/><rect x="535.59" y="1206.51" width="21.42" height="18.91" fill="#0080ff"/><rect x="556.96" y="1206.51" width="21.42" height="18.91" fill="#00dfff"/><rect x="578.33" y="1206.51" width="21.42" height="18.91" fill="#ffffff"/><rect x="599.70" y="1206.51" width="21.42" height="18.91" fill="#40ffbf"/><rect x="621.06" y="1206.51" width="21.42" height="18.91" fill="#60ff9f"/><rect x="642.43" y="1206.51" width="21.42" height="18.91" fill="#00bfff"/><rect x="65.50" y="1225.38" width="21.42" height="18.91" fill="#70ff8f"/><rect x="86.87" y="1225.38" width="21.42" height="18.91" fill="#70ff8f"/><rect x="108.24" y="1225.38" width="21.42" height="18.91" fill="#70ff8f"/><rect x="129.60" y="1225.38" width="21.42" height="18.91" fill="#ffff00"/><rect x="150.97" y="1225.38" width="21.42" height="18.91" fill="#ffffff"/><rect x="172.34" y="1225.38" width="21.42" height="18.91" fill="#9fff60"/><rect x="193.71" y="1225.38" width="21.42" height="18.91" fill="#20ffdf"/><rect x="215.07" y="1225.38" width="21.42" height="18.91" fill="#00ffff"/><rect x="236.44" y="1225.38" width="21.42" height="18.91" fill="#ffffff"/><rect x="257.81" y="1225.38" width="21.42" height="18.91" fill="#ffffff"/><rect x="279.18" y="1225.38" width="21.42" height="18.91" fill="#bfff40"/><rect x="300.55" y="1225.38" width="21.42" height="18.91" fill="#60ff9f"/><rect x="321.91" y="1225.38" width="21.42" height="18.91" fill="#dfff20"/><rect x="343.28" y="1225.38" width="21.42" height="18.91" fill="#bfff40"/><rect x="364.65" y="1225.38" width="21.42" height="18.91" fill="#9fff60"/><rect x="386.02" y="1225.38" width="21.42" height="18.91" fill="#9fff60"/><rect x="407.39" y="1225.38" width="21.42" height="18.91" fill="#dfff20"/><rect x="428.75" y="1225.38" width="21.42" height="18.91" fill="#9fff60"/><rect x="450.12" y="1225.38" width="21.42" height="18.91" fill="#40ffbf"/><rect x="471.49" y="1225.38" width="21.42" height="18.91" fill="#9fff60"/><rect x="492.86" y="1225.38" width="21.42" height="18.91" fill="#9fff60"/><rect x="514.22" y="1225.38" width="21.42" height="18.91" fill="#80ff80"/><rect x="535.59" y="1225.38" width="21.42" height="18.91" fill="#9fff60"/><rect x="556.96" y="1225.38" width="21.42" height="18.91" fill="#ffff00"/><rect x="578.33" y="1225.38" width="21.42" height="18.91" fill="#80ff80"/><rect x="599.70" y="1225.38" width="21.42" height="18.91" fill="#9fff60"/><rect x="621.06" y="1225.38" width="21.42" height="18.91" fill="#ffff00"/><rect x="642.43" y="1225.38" width="21.42" height="18.91" fill="#9fff60"/><rect x="65.50" y="1244.24" width="21.42" height="18.91" fill="#bfff40"/><rect x="86.87" y="1244.24" width="21.42" height="18.91" fill="#9fff60"/><rect x="108.24" y="1244.24" width="21.42" height="18.91" fill="#9fff60"/><rect x="129.60" y="1244.24" width="21.42" height="18.91" fill="#ffdf00"/><rect x="150.97" y="1244.24" width="21.42" height="18.91" fill="#ffdf00"/><rect x="172.34" y="1244.24" width="21.42" height="18.91" fill="#80ff80"/><rect x="193.71" y="1244.24" width="21.42" height="18.91" fill="#80ff80"/><rect x="215.07" y="1244.24" width="21.42" height="18.91" fill="#00bfff"/><rect x="236.44" y="1244.24" width="21.42" height="18.91" fill="#40ffbf"/><rect x="257.81" y="1244.24" width="21.42" height="18.91" fill="#9fff60"/><rect x="279.18" y="1244.24" width="21.42" height="18.91" fill="#ffffff"/><rect x="300.55" y="1244.24" width="21.42" height="18.91" fill="#dfff20"/><rect x="321.91" y="1244.24" width="21.42" height="18.91" fill="#dfff20"/><rect x="343.28" y="1244.24" width="21.42" height="18.91" fill="#80ff80"/><rect x="364.65" y="1244.24" width="21.42" height="18.91" fill="#40ffbf"/><rect x="386.02" y="1244.24" width="21.42" height="18.91" fill="#bfff40"/><rect x="407.39" y="1244.24" width="21.42" height="18.91" fill="#bfff40"/><rect x="428.75" y="1244.24" width="21.42" height="18.91" fill="#80ff80"/><rect x="450.12" y="1244.24" width="21.42" height="18.91" fill="#00ffff"/><rect x="471.49" y="1244.24" width="21.42" height="18.91" fill="#80ff80"/><rect x="492.86" y="1244.24" width="21.42" height="18.91" fill="#9fff60"/><rect x="514.22" y="1244.24" width="21.42" height="18.91" fill="#20ffdf"/><rect x="535.59" y="1244.24" width="21.42" height="18.91" fill="#80ff80"/><rect x="556.96" y="1244.24" width="21.42" height="18.91" fill="#bfff40"/><rect x="578.33" y="1244.24" width="21.42" height="18.91" fill="#80ff80"/><rect x="599.70" y="1244.24" width="21.42" height="18.91" fill="#bfff40"/><rect x="621.06" y="1244.24" width="21.42" height="18.91" fill="#ffdf00"/><rect x="642.43" y="1244.24" width="21.42" height="18.91" fill="#80ff80"/></g>
<path d="M86.87 74.80V1263.10M108.24 74.80V1263.10M129.60 74.80V1263.10M150.97 74.80V1263.10M172.34 74.80V1263.10M193.71 74.80V1263.10M215.07 74.80V1263.10M236.44 74.80V1263.10M257.81 74.80V1263.10M279.18 74.80V1263.10M300.55 74.80V1263.10M321.91 74.80V1263.10M343.28 74.80V1263.10M364.65 74.80V1263.10M386.02 74.80V1263.10M407.39 74.80V1263.10M428.75 74.80V1263.10M450.12 74.80V1263.10M471.49 74.80V1263.10M492.86 74.80V1263.10M514.22 74.80V1263.10M535.59 74.80V1263.10M556.96 74.80V1263.10M578.33 74.80V1263.10M599.70 74.80V1263.10M621.06 74.80V1263.10M642.43 74.80V1263.10M65.50 93.66H663.80M65.50 112.52H663.80M65.50 131.39H663.80M65.50 150.25H663.80M65.50 169.11H663.80M65.50 187.97H663.80M65.50 206.83H663.80M65.50 225.70H663.80M65.50 244.56H663.80M65.50 263.42H663.80M65.50 282.28H663.80M65.50 301.14H663.80M65.50 320.00H663.80M65.50 338.87H663.80M65.50 357.73H663.80M65.50 376.59H663.80M65.50 395.45H663.80M65.50 414.31H663.80M65.50 433.18H663.80M65.50 452.04H663.80M65.50 470.90H663.80M65.50 489.76H663.80M65.50 508.62H663.80M65.50 527.49H663.80M65.50 546.35H663.80M65.50 565.21H663.80M65.50 584.07H663.80M65.50 602.93H663.80M65.50 621.80H663.80M65.50 640.66H663.80M65.50 659.52H663.80M65.50 678.38H663.80M65.50 697.24H663.80M65.50 716.10H663.80M65.50 734.97H663.80M65.50 753.83H663.80M65.50 772.69H663.80M65.50 791.55H663.80M65.50 810.41H663.80M65.50 829.28H663.80M65.50 848.14H663.80M65.50 867.00H663.80M65.50 885.86H663.80M65.50 904.72H663.80M65.50 923.59H663.80M65.50 942.45H663.80M65.50 961.31H663.80M65.50 980.17H663.80M65.50 999.03H663.80M65.50 1017.90H663.80M65.50 1036.76H663.80M65.50 1055.62H663.80M65.50 1074.48H663.80M65.50 1093.34H663.80M65.50 1112.20H663.80M65.50 1131.07H663.80M65.50 1149.93H663.80M65.50 1168.79H663.80M65.50 1187.65H663.80M65.50 1206.51H663.80M65.50 1225.38H663.80M65.50 1244.24H663.80" stroke="#000" stroke-width="1.1" fill="none" opacity="0.6"/>
<path d="M76.18 74.80v11.00M76.18 1263.10v-11.00M97.55 74.80v11.00M97.55 1263.10v-11.00M118.92 74.80v11.00M118.92 1263.10v-11.00M140.29 74.80v11.00M140.29 1263.10v-11.00M161.66 74.80v11.00M161.66 1263.10v-11.00M183.02 74.80v11.00M183.02 1263.10v-11.00M204.39 74.80v11.00M204.39 1263.10v-11.00M225.76 74.80v11.00M225.76 1263.10v-11.00M247.13 74.80v11.00M247.13 1263.10v-11.00M268.49 74.80v11.00M268.49 1263.10v-11.00M289.86 74.80v11.00M289.86 1263.10v-11.00M311.23 74.80v11.00M311.23 1263.10v-11.00M332.60 74.80v11.00M332.60 1263.10v-11.00M353.97 74.80v11.00M353.97 1263.10v-11.00M375.33 74.80v11.00M375.33 1263.10v-11.00M396.70 74.80v11.00M396.70 1263.10v-11.00M418.07 74.80v11.00M418.07 1263.10v-11.00M439.44 74.80v11.00M439.44 1263.10v-11.00M460.81 74.80v11.00M460.81 1263.10v-11.00M482.17 74.80v11.00M482.17 1263.10v-11.00M503.54 74.80v11.00M503.54 1263.10v-11.00M524.91 74.80v11.00M524.91 1263.10v-11.00M546.28 74.80v11.00M546.28 1263.10v-11.00M567.64 74.80v11.00M567.64 1263.10v-11.00M589.01 74.80v11.00M589.01 1263.10v-11.00M610.38 74.80v11.00M610.38 1263.10v-11.00M631.75 74.80v11.00M631.75 1263.10v-11.00M653.12 74.80v11.00M653.12 1263.10v-11.00M65.50 84.23h11.00M663.80 84.23h-11.00M65.50 103.09h11.00M663.80 103.09h-11.00M65.50 121.95h11.00M663.80 121.95h-11.00M65.50 140.82h11.00M663.80 140.82h-11.00M65.50 159.68h11.00M663.80 159.68h-11.00M65.50 178.54h11.00M663.80 178.54h-11.00M65.50 197.40h11.00M663.80 197.40h-11.00M65.50 216.26h11.00M663.80 216.26h-11.00M65.50 235.13h11.00M663.80 235.13h-11.00M65.50 253.99h11.00M663.80 253.99h-11.00M65.50 272.85h11.00M663.80 272.85h-11.00M65.50 291.71h11.00M663.80 291.71h-11.00M65.50 310.57h11.00M663.80 310.57h-11.00M65.50 329.44h11.00M663.80 329.44h-11.00M65.50 348.30h11.00M663.80 348.30h-11.00M65.50 367.16h11.00M663.80 367.16h-11.00M65.50 386.02h11.00M663.80 386.02h-11.00M65.50 404.88h11.00M663.80 404.88h-11.00M65.50 423.75h11.00M663.80 423.75h-11.00M65.50 442.61h11.00M663.80 442.61h-11.00M65.50 461.47h11.00M663.80 461.47h-11.00M65.50 480.33h11.00M663.80 480.33h-11.00M65.50 499.19h11.00M663.80 499.19h-11.00M65.50 518.05h11.00M663.80 518.05h-11.00M65.50 536.92h11.00M663.80 536.92h-11.00M65.50 555.78h11.00M663.80 555.78h-11.00M65.50 574.64h11.00M663.80 574.64h-11.00M65.50 593.50h11.00M663.80 593.50h-11.00M65.50 612.36h11.00M663.80 612.36h-11.00M65.50 631.23h11.00M663.80 631.23h-11.00M65.50 650.09h11.00M663.80 650.09h-11.00M65.50 668.95h11.00M663.80 668.95h-11.00M65.50 687.81h11.00M663.80 687.81h-11.00M65.50 706.67h11.00M663.80 706.67h-11.00M65.50 725.54h11.00M663.80 725.54h-11.00M65.50 744.40h11.00M663.80 744.40h-11.00M65.50 763.26h11.00M663.80 763.26h-11.00M65.50 782.12h11.00M663.80 782.12h-11.00M65.50 800.98h11.00M663.80 800.98h-11.00M65.50 819.85h11.00M663.80 819.85h-11.00M65.50 838.71h11.00M663.80 838.71h-11.00M65.50 857.57h11.00M663.80 857.57h-11.00M65.50 876.43h11.00M663.80 876.43h-11.00M65.50 895.29h11.00M663.80 895.29h-11.00M65.50 914.15h11.00M663.80 914.15h-11.00M65.50 933.02h11.00M663.80 933.02h-11.00M65.50 951.88h11.00M663.80 951.88h-11.00M65.50 970.74h11.00M663.80 970.74h-11.00M65.50 989.60h11.00M663.80 989.60h-11.00M65.50 1008.46h11.00M663.80 1008.46h-11.00M65.50 1027.33h11.00M663.80 1027.33h-11.00M65.50 1046.19h11.00M663.80 1046.19h-11.00M65.50 1065.05h11.00M663.80 1065.05h-11.00M65.50 1083.91h11.00M663.80 1083.91h-11.00M65.50 1102.77h11.00M663.80 1102.77h-11.00M65.50 1121.64h11.00M663.80 1121.64h-11.00M65.50 1140.50h11.00M663.80 1140.50h-11.00M65.50 1159.36h11.00M663.80 1159.36h-11.00M65.50 1178.22h11.00M663.80 1178.22h-11.00M65.50 1197.08h11.00M663.80 1197.08h-11.00M65.50 1215.95h11.00M663.80 1215.95h-11.00M65.50 1234.81h11.00M663.80 1234.81h-11.00M65.50 1253.67h11.00M663.80 1253.67h-11.00" stroke="#262626" stroke-width="1" fill="none" opacity="0.8"/>
<rect x="65.50" y="74.80" width="598.30" height="1188.30" fill="none" stroke="#262626" stroke-width="1"/>
<text transform="translate(58.0 91.83) scale(1 1.040)" font-size="19.5" text-anchor="end">Na</text>
<text transform="translate(58.0 110.69) scale(1 1.040)" font-size="19.5" text-anchor="end">Mg</text>
<text transform="translate(58.0 129.55) scale(1 1.040)" font-size="19.5" text-anchor="end">Al</text>
<text transform="translate(58.0 148.42) scale(1 1.040)" font-size="19.5" text-anchor="end">Si</text>
<text transform="translate(58.0 167.28) scale(1 1.040)" font-size="19.5" text-anchor="end">Ca</text>
<text transform="translate(58.0 186.14) scale(1 1.040)" font-size="19.5" text-anchor="end">Sc</text>
<text transform="translate(58.0 205.00) scale(1 1.040)" font-size="19.5" text-anchor="end">Ti</text>
<text transform="translate(58.0 223.86) scale(1 1.040)" font-size="19.5" text-anchor="end">V</text>
<text transform="translate(58.0 242.73) scale(1 1.040)" font-size="19.5" text-anchor="end">Cr</text>
<text transform="translate(58.0 261.59) scale(1 1.040)" font-size="19.5" text-anchor="end">Fe</text>
<text transform="translate(58.0 280.45) scale(1 1.040)" font-size="19.5" text-anchor="end">Mn</text>
<text transform="translate(58.0 299.31) scale(1 1.040)" font-size="19.5" text-anchor="end">Ni</text>
<text transform="translate(58.0 318.17) scale(1 1.040)" font-size="19.5" text-anchor="end">Co</text>
<text transform="translate(58.0 337.04) scale(1 1.040)" font-size="19.5" text-anchor="end">Cu</text>
<text transform="translate(58.0 355.90) scale(1 1.040)" font-size="19.5" text-anchor="end">Zn</text>
<text transform="translate(58.0 374.76) scale(1 1.040)" font-size="19.5" text-anchor="end">Ga</text>
<text transform="translate(58.0 393.62) scale(1 1.040)" font-size="19.5" text-anchor="end">Ge</text>
<text transform="translate(58.0 412.48) scale(1 1.040)" font-size="19.5" text-anchor="end">As</text>
<text transform="translate(58.0 431.35) scale(1 1.040)" font-size="19.5" text-anchor="end">Se</text>
<text transform="translate(58.0 450.21) scale(1 1.040)" font-size="19.5" text-anchor="end">Rb</text>
<text transform="translate(58.0 469.07) scale(1 1.040)" font-size="19.5" text-anchor="end">Sr</text>
<text transform="translate(58.0 487.93) scale(1 1.040)" font-size="19.5" text-anchor="end">Y</text>
<text transform="translate(58.0 506.79) scale(1 1.040)" font-size="19.5" text-anchor="end">Zr</text>
<text transform="translate(58.0 525.65) scale(1 1.040)" font-size="19.5" text-anchor="end">Nb</text>
<text transform="translate(58.0 544.52) scale(1 1.040)" font-size="19.5" text-anchor="end">Mo</text>
<text transform="translate(58.0 563.38) scale(1 1.040)" font-size="19.5" text-anchor="end">Ru</text>
<text transform="translate(58.0 582.24) scale(1 1.040)" font-size="19.5" text-anchor="end">Rh</text>
<text transform="translate(58.0 601.10) scale(1 1.040)" font-size="19.5" text-anchor="end">Pd</text>
<text transform="translate(58.0 619.96) scale(1 1.040)" font-size="19.5" text-anchor="end">Ag</text>
<text transform="translate(58.0 638.83) scale(1 1.040)" font-size="19.5" text-anchor="end">Cd</text>
<text transform="translate(58.0 657.69) scale(1 1.040)" font-size="19.5" text-anchor="end">In</text>
<text transform="translate(58.0 676.55) scale(1 1.040)" font-size="19.5" text-anchor="end">Sn</text>
<text transform="translate(58.0 695.41) scale(1 1.040)" font-size="19.5" text-anchor="end">Sb</text>
<text transform="translate(58.0 714.27) scale(1 1.040)" font-size="19.5" text-anchor="end">Te</text>
<text transform="translate(58.0 733.14) scale(1 1.040)" font-size="19.5" text-anchor="end">Cs</text>
<text transform="translate(58.0 752.00) scale(1 1.040)" font-size="19.5" text-anchor="end">Ba</text>
<text transform="translate(58.0 770.86) scale(1 1.040)" font-size="19.5" text-anchor="end">La</text>
<text transform="translate(58.0 789.72) scale(1 1.040)" font-size="19.5" text-anchor="end">Ce</text>
<text transform="translate(58.0 808.58) scale(1 1.040)" font-size="19.5" text-anchor="end">Pr</text>
<text transform="translate(58.0 827.45) scale(1 1.040)" font-size="19.5" text-anchor="end">Nd</text>
<text transform="translate(58.0 846.31) scale(1 1.040)" font-size="19.5" text-anchor="end">Sm</text>
<text transform="translate(58.0 865.17) scale(1 1.040)" font-size="19.5" text-anchor="end">Eu</text>
<text transform="translate(58.0 884.03) scale(1 1.040)" font-size="19.5" text-anchor="end">Gd</text>
<text transform="translate(58.0 902.89) scale(1 1.040)" font-size="19.5" text-anchor="end">Tb</text>
<text transform="translate(58.0 921.75) scale(1 1.040)" font-size="19.5" text-anchor="end">Dy</text>
<text transform="translate(58.0 940.62) scale(1 1.040)" font-size="19.5" text-anchor="end">Ho</text>
<text transform="translate(58.0 959.48) scale(1 1.040)" font-size="19.5" text-anchor="end">Er</text>
<text transform="translate(58.0 978.34) scale(1 1.040)" font-size="19.5" text-anchor="end">Tm</text>
<text transform="translate(58.0 997.20) scale(1 1.040)" font-size="19.5" text-anchor="end">Yb</text>
<text transform="translate(58.0 1016.06) scale(1 1.040)" font-size="19.5" text-anchor="end">Lu</text>
<text transform="translate(58.0 1034.93) scale(1 1.040)" font-size="19.5" text-anchor="end">Hf</text>
<text transform="translate(58.0 1053.79) scale(1 1.040)" font-size="19.5" text-anchor="end">Ta</text>
<text transform="translate(58.0 1072.65) scale(1 1.040)" font-size="19.5" text-anchor="end">W</text>
<text transform="translate(58.0 1091.51) scale(1 1.040)" font-size="19.5" text-anchor="end">Re</text>
<text transform="translate(58.0 1110.37) scale(1 1.040)" font-size="19.5" text-anchor="end">Os</text>
<text transform="translate(58.0 1129.24) scale(1 1.040)" font-size="19.5" text-anchor="end">Ir</text>
<text transform="translate(58.0 1148.10) scale(1 1.040)" font-size="19.5" text-anchor="end">Pt</text>
<text transform="translate(58.0 1166.96) scale(1 1.040)" font-size="19.5" text-anchor="end">Au</text>
<text transform="translate(58.0 1185.82) scale(1 1.040)" font-size="19.5" text-anchor="end">Tl</text>
<text transform="translate(58.0 1204.68) scale(1 1.040)" font-size="19.5" text-anchor="end">Pb</text>
<text transform="translate(58.0 1223.55) scale(1 1.040)" font-size="19.5" text-anchor="end">Bi</text>
<text transform="translate(58.0 1242.41) scale(1 1.040)" font-size="19.5" text-anchor="end">Th</text>
<text transform="translate(58.0 1261.27) scale(1 1.040)" font-size="19.5" text-anchor="end">U</text>
<g transform="translate(83.38 68.00) rotate(-90) scale(1 1.040)"><text x="0" y="0" font-size="19.50">9. </text><path fill="#111" d="M763 0L583 0L583 1147Q518 1085 412.5 1023Q307 961 223 930L223 1104Q374 1175 487 1276Q600 1377 647 1466L763 1466Z" transform="translate(16.263 0) scale(0.00952 -0.00952)"/></g>
<g transform="translate(104.75 68.00) rotate(-90) scale(1 1.040)"><text x="0" y="0" font-size="19.50">9.2</text></g>
<g transform="translate(126.12 68.00) rotate(-90) scale(1 1.040)"><text x="0" y="0" font-size="19.50">9.7</text></g>
<g transform="translate(147.49 68.00) rotate(-90) scale(1 1.040)"><text x="0" y="0" font-size="19.50"> 0</text><path fill="#111" d="M763 0L583 0L583 1147Q518 1085 412.5 1023Q307 961 223 930L223 1104Q374 1175 487 1276Q600 1377 647 1466L763 1466Z" transform="translate(0.000 0) scale(0.00952 -0.00952)"/></g>
<g transform="translate(168.86 68.00) rotate(-90) scale(1 1.040)"><text x="0" y="0" font-size="19.50"> 0. </text><path fill="#111" d="M763 0L583 0L583 1147Q518 1085 412.5 1023Q307 961 223 930L223 1104Q374 1175 487 1276Q600 1377 647 1466L763 1466Z" transform="translate(0.000 0) scale(0.00952 -0.00952)"/><path fill="#111" d="M763 0L583 0L583 1147Q518 1085 412.5 1023Q307 961 223 930L223 1104Q374 1175 487 1276Q600 1377 647 1466L763 1466Z" transform="translate(27.108 0) scale(0.00952 -0.00952)"/></g>
<g transform="translate(190.22 68.00) rotate(-90) scale(1 1.040)"><text x="0" y="0" font-size="19.50"> 0.2</text><path fill="#111" d="M763 0L583 0L583 1147Q518 1085 412.5 1023Q307 961 223 930L223 1104Q374 1175 487 1276Q600 1377 647 1466L763 1466Z" transform="translate(0.000 0) scale(0.00952 -0.00952)"/></g>
<g transform="translate(211.59 68.00) rotate(-90) scale(1 1.040)"><text x="0" y="0" font-size="19.50"> 0.6</text><path fill="#111" d="M763 0L583 0L583 1147Q518 1085 412.5 1023Q307 961 223 930L223 1104Q374 1175 487 1276Q600 1377 647 1466L763 1466Z" transform="translate(0.000 0) scale(0.00952 -0.00952)"/></g>
<g transform="translate(232.96 68.00) rotate(-90) scale(1 1.040)"><text x="0" y="0" font-size="19.50"> 0.7</text><path fill="#111" d="M763 0L583 0L583 1147Q518 1085 412.5 1023Q307 961 223 930L223 1104Q374 1175 487 1276Q600 1377 647 1466L763 1466Z" transform="translate(0.000 0) scale(0.00952 -0.00952)"/></g>
<g transform="translate(254.33 68.00) rotate(-90) scale(1 1.040)"><text x="0" y="0" font-size="19.50">  . </text><path fill="#111" d="M763 0L583 0L583 1147Q518 1085 412.5 1023Q307 961 223 930L223 1104Q374 1175 487 1276Q600 1377 647 1466L763 1466Z" transform="translate(0.000 0) scale(0.00952 -0.00952)"/><path fill="#111" d="M763 0L583 0L583 1147Q518 1085 412.5 1023Q307 961 223 930L223 1104Q374 1175 487 1276Q600 1377 647 1466L763 1466Z" transform="translate(10.845 0) scale(0.00952 -0.00952)"/><path fill="#111" d="M763 0L583 0L583 1147Q518 1085 412.5 1023Q307 961 223 930L223 1104Q374 1175 487 1276Q600 1377 647 1466L763 1466Z" transform="translate(27.108 0) scale(0.00952 -0.00952)"/></g>
<g transform="translate(275.69 68.00) rotate(-90) scale(1 1.040)"><text x="0" y="0" font-size="19.50">  .7</text><path fill="#111" d="M763 0L583 0L583 1147Q518 1085 412.5 1023Q307 961 223 930L223 1104Q374 1175 487 1276Q600 1377 647 1466L763 1466Z" transform="translate(0.000 0) scale(0.00952 -0.00952)"/><path fill="#111" d="M763 0L583 0L583 1147Q518 1085 412.5 1023Q307 961 223 930L223 1104Q374 1175 487 1276Q600 1377 647 1466L763 1466Z" transform="translate(10.845 0) scale(0.00952 -0.00952)"/></g>
<g transform="translate(297.06 68.00) rotate(-90) scale(1 1.040)"><text x="0" y="0" font-size="19.50"> 2</text><path fill="#111" d="M763 0L583 0L583 1147Q518 1085 412.5 1023Q307 961 223 930L223 1104Q374 1175 487 1276Q600 1377 647 1466L763 1466Z" transform="translate(0.000 0) scale(0.00952 -0.00952)"/></g>
<g transform="translate(318.43 68.00) rotate(-90) scale(1 1.040)"><text x="0" y="0" font-size="19.50"> 2.2</text><path fill="#111" d="M763 0L583 0L583 1147Q518 1085 412.5 1023Q307 961 223 930L223 1104Q374 1175 487 1276Q600 1377 647 1466L763 1466Z" transform="translate(0.000 0) scale(0.00952 -0.00952)"/></g>
<g transform="translate(339.80 68.00) rotate(-90) scale(1 1.040)"><text x="0" y="0" font-size="19.50"> 2.6</text><path fill="#111" d="M763 0L583 0L583 1147Q518 1085 412.5 1023Q307 961 223 930L223 1104Q374 1175 487 1276Q600 1377 647 1466L763 1466Z" transform="translate(0.000 0) scale(0.00952 -0.00952)"/></g>
<g transform="translate(361.17 68.00) rotate(-90) scale(1 1.040)"><text x="0" y="0" font-size="19.50"> 3</text><path fill="#111" d="M763 0L583 0L583 1147Q518 1085 412.5 1023Q307 961 223 930L223 1104Q374 1175 487 1276Q600 1377 647 1466L763 1466Z" transform="translate(0.000 0) scale(0.00952 -0.00952)"/></g>
<g transform="translate(382.53 68.00) rotate(-90) scale(1 1.040)"><text x="0" y="0" font-size="19.50"> 3.3</text><path fill="#111" d="M763 0L583 0L583 1147Q518 1085 412.5 1023Q307 961 223 930L223 1104Q374 1175 487 1276Q600 1377 647 1466L763 1466Z" transform="translate(0.000 0) scale(0.00952 -0.00952)"/></g>
<g transform="translate(403.90 68.00) rotate(-90) scale(1 1.040)"><text x="0" y="0" font-size="19.50"> 3.5</text><path fill="#111" d="M763 0L583 0L583 1147Q518 1085 412.5 1023Q307 961 223 930L223 1104Q374 1175 487 1276Q600 1377 647 1466L763 1466Z" transform="translate(0.000 0) scale(0.00952 -0.00952)"/></g>
<g transform="translate(425.27 68.00) rotate(-90) scale(1 1.040)"><text x="0" y="0" font-size="19.50"> 4</text><path fill="#111" d="M763 0L583 0L583 1147Q518 1085 412.5 1023Q307 961 223 930L223 1104Q374 1175 487 1276Q600 1377 647 1466L763 1466Z" transform="translate(0.000 0) scale(0.00952 -0.00952)"/></g>
<g transform="translate(446.64 68.00) rotate(-90) scale(1 1.040)"><text x="0" y="0" font-size="19.50"> 4.3</text><path fill="#111" d="M763 0L583 0L583 1147Q518 1085 412.5 1023Q307 961 223 930L223 1104Q374 1175 487 1276Q600 1377 647 1466L763 1466Z" transform="translate(0.000 0) scale(0.00952 -0.00952)"/></g>
<g transform="translate(468.01 68.00) rotate(-90) scale(1 1.040)"><text x="0" y="0" font-size="19.50"> 4.8</text><path fill="#111" d="M763 0L583 0L583 1147Q518 1085 412.5 1023Q307 961 223 930L223 1104Q374 1175 487 1276Q600 1377 647 1466L763 1466Z" transform="translate(0.000 0) scale(0.00952 -0.00952)"/></g>
<g transform="translate(489.37 68.00) rotate(-90) scale(1 1.040)"><text x="0" y="0" font-size="19.50"> 5.3</text><path fill="#111" d="M763 0L583 0L583 1147Q518 1085 412.5 1023Q307 961 223 930L223 1104Q374 1175 487 1276Q600 1377 647 1466L763 1466Z" transform="translate(0.000 0) scale(0.00952 -0.00952)"/></g>
<g transform="translate(510.74 68.00) rotate(-90) scale(1 1.040)"><text x="0" y="0" font-size="19.50"> 5.6</text><path fill="#111" d="M763 0L583 0L583 1147Q518 1085 412.5 1023Q307 961 223 930L223 1104Q374 1175 487 1276Q600 1377 647 1466L763 1466Z" transform="translate(0.000 0) scale(0.00952 -0.00952)"/></g>
<g transform="translate(532.11 68.00) rotate(-90) scale(1 1.040)"><text x="0" y="0" font-size="19.50"> 6</text><path fill="#111" d="M763 0L583 0L583 1147Q518 1085 412.5 1023Q307 961 223 930L223 1104Q374 1175 487 1276Q600 1377 647 1466L763 1466Z" transform="translate(0.000 0) scale(0.00952 -0.00952)"/></g>
<g transform="translate(553.48 68.00) rotate(-90) scale(1 1.040)"><text x="0" y="0" font-size="19.50"> 7. </text><path fill="#111" d="M763 0L583 0L583 1147Q518 1085 412.5 1023Q307 961 223 930L223 1104Q374 1175 487 1276Q600 1377 647 1466L763 1466Z" transform="translate(0.000 0) scale(0.00952 -0.00952)"/><path fill="#111" d="M763 0L583 0L583 1147Q518 1085 412.5 1023Q307 961 223 930L223 1104Q374 1175 487 1276Q600 1377 647 1466L763 1466Z" transform="translate(27.108 0) scale(0.00952 -0.00952)"/></g>
<g transform="translate(574.84 68.00) rotate(-90) scale(1 1.040)"><text x="0" y="0" font-size="19.50">2 .9</text><path fill="#111" d="M763 0L583 0L583 1147Q518 1085 412.5 1023Q307 961 223 930L223 1104Q374 1175 487 1276Q600 1377 647 1466L763 1466Z" transform="translate(10.845 0) scale(0.00952 -0.00952)"/></g>
<g transform="translate(596.21 68.00) rotate(-90) scale(1 1.040)"><text x="0" y="0" font-size="19.50">26.8</text></g>
<g transform="translate(617.58 68.00) rotate(-90) scale(1 1.040)"><text x="0" y="0" font-size="19.50">32.2</text></g>
<g transform="translate(638.95 68.00) rotate(-90) scale(1 1.040)"><text x="0" y="0" font-size="19.50">34.5</text></g>
<g transform="translate(660.32 68.00) rotate(-90) scale(1 1.040)"><text x="0" y="0" font-size="19.50">44.4</text></g>
<text transform="translate(300.6 16.3) scale(1 1.040)" font-size="22"><tspan letter-spacing="0.8">Age</tspan> <tspan dx="-0.6">[kyr</tspan> <tspan dx="1.6">BP]</tspan></text>
<text transform="translate(17.6 760.0) rotate(-90) scale(1 1.040)" font-size="22.5" textLength="188" lengthAdjust="spacing">Elements detected</text>
<defs><linearGradient id="jet" x1="0" x2="1" y1="0" y2="0"><stop offset="0.0000" stop-color="#000080"/><stop offset="0.0312" stop-color="#00009f"/><stop offset="0.0625" stop-color="#0000bf"/><stop offset="0.0938" stop-color="#0000df"/><stop offset="0.1250" stop-color="#0000ff"/><stop offset="0.1562" stop-color="#0020ff"/><stop offset="0.1875" stop-color="#0040ff"/><stop offset="0.2188" stop-color="#0060ff"/><stop offset="0.2500" stop-color="#0080ff"/><stop offset="0.2812" stop-color="#009fff"/><stop offset="0.3125" stop-color="#00bfff"/><stop offset="0.3438" stop-color="#00dfff"/><stop offset="0.3750" stop-color="#00ffff"/><stop offset="0.4062" stop-color="#20ffdf"/><stop offset="0.4375" stop-color="#40ffbf"/><stop offset="0.4688" stop-color="#60ff9f"/><stop offset="0.5000" stop-color="#80ff80"/><stop offset="0.5312" stop-color="#9fff60"/><stop offset="0.5625" stop-color="#bfff40"/><stop offset="0.5938" stop-color="#dfff20"/><stop offset="0.6250" stop-color="#ffff00"/><stop offset="0.6562" stop-color="#ffdf00"/><stop offset="0.6875" stop-color="#ffbf00"/><stop offset="0.7188" stop-color="#ff9f00"/><stop offset="0.7500" stop-color="#ff8000"/><stop offset="0.7812" stop-color="#ff6000"/><stop offset="0.8125" stop-color="#ff4000"/><stop offset="0.8438" stop-color="#ff2000"/><stop offset="0.8750" stop-color="#ff0000"/><stop offset="0.9062" stop-color="#df0000"/><stop offset="0.9375" stop-color="#bf0000"/><stop offset="0.9688" stop-color="#9f0000"/><stop offset="1.0000" stop-color="#800000"/></linearGradient></defs>
<rect x="66.50" y="1274.20" width="596.00" height="19.20" fill="url(#jet)"/>
<rect x="66.50" y="1274.20" width="2.2" height="19.20" fill="#d0d0d0"/>
<rect x="66.50" y="1274.20" width="596.00" height="19.20" fill="none" stroke="#5a4a4a" stroke-width="0.9"/>
<path d="M186.10 1293.40v-4" stroke="#333" stroke-width="1"/>
<path d="M305.20 1293.40v-4" stroke="#333" stroke-width="1"/>
<path d="M424.30 1293.40v-4" stroke="#333" stroke-width="1"/>
<path d="M543.40 1293.40v-4" stroke="#333" stroke-width="1"/>
<g transform="translate(44.70 1321.3) scale(1 1.040)"><text x="0" y="0" font-size="30.00"> 0</text><path fill="#111" d="M763 0L583 0L583 1147Q518 1085 412.5 1023Q307 961 223 930L223 1104Q374 1175 487 1276Q600 1377 647 1466L763 1466Z" transform="translate(0.000 0) scale(0.01465 -0.01465)"/><g transform="translate(33.369 -9.8)"><text x="0" y="0" font-size="18.60">-3</text></g></g>
<g transform="translate(162.00 1321.3) scale(1 1.040)"><text x="0" y="0" font-size="30.00"> 0</text><path fill="#111" d="M763 0L583 0L583 1147Q518 1085 412.5 1023Q307 961 223 930L223 1104Q374 1175 487 1276Q600 1377 647 1466L763 1466Z" transform="translate(0.000 0) scale(0.01465 -0.01465)"/><g transform="translate(33.369 -9.8)"><text x="0" y="0" font-size="18.60">-2</text></g></g>
<g transform="translate(280.20 1321.3) scale(1 1.040)"><text x="0" y="0" font-size="30.00"> 0</text><path fill="#111" d="M763 0L583 0L583 1147Q518 1085 412.5 1023Q307 961 223 930L223 1104Q374 1175 487 1276Q600 1377 647 1466L763 1466Z" transform="translate(0.000 0) scale(0.01465 -0.01465)"/><g transform="translate(33.369 -9.8)"><text x="0" y="0" font-size="18.60">- </text><path fill="#111" d="M763 0L583 0L583 1147Q518 1085 412.5 1023Q307 961 223 930L223 1104Q374 1175 487 1276Q600 1377 647 1466L763 1466Z" transform="translate(6.194 0) scale(0.00908 -0.00908)"/></g></g>
<g transform="translate(402.90 1321.3) scale(1 1.040)"><text x="0" y="0" font-size="30.00"> 0</text><path fill="#111" d="M763 0L583 0L583 1147Q518 1085 412.5 1023Q307 961 223 930L223 1104Q374 1175 487 1276Q600 1377 647 1466L763 1466Z" transform="translate(0.000 0) scale(0.01465 -0.01465)"/><g transform="translate(33.369 -9.8)"><text x="0" y="0" font-size="18.60">0</text></g></g>
<g transform="translate(522.70 1321.3) scale(1 1.040)"><text x="0" y="0" font-size="30.00"> 0</text><path fill="#111" d="M763 0L583 0L583 1147Q518 1085 412.5 1023Q307 961 223 930L223 1104Q374 1175 487 1276Q600 1377 647 1466L763 1466Z" transform="translate(0.000 0) scale(0.01465 -0.01465)"/><g transform="translate(33.369 -9.8)"><text x="0" y="0" font-size="18.60"> </text><path fill="#111" d="M763 0L583 0L583 1147Q518 1085 412.5 1023Q307 961 223 930L223 1104Q374 1175 487 1276Q600 1377 647 1466L763 1466Z" transform="translate(0.000 0) scale(0.00908 -0.00908)"/></g></g>
<g transform="translate(641.90 1321.3) scale(1 1.040)"><text x="0" y="0" font-size="30.00"> 0</text><path fill="#111" d="M763 0L583 0L583 1147Q518 1085 412.5 1023Q307 961 223 930L223 1104Q374 1175 487 1276Q600 1377 647 1466L763 1466Z" transform="translate(0.000 0) scale(0.01465 -0.01465)"/><g transform="translate(33.369 -9.8)"><text x="0" y="0" font-size="18.60">2</text></g></g>
<text transform="translate(149.8 1352.6) scale(1 1.040)" font-size="27" textLength="429" lengthAdjust="spacing">% of element containing particles</text>
</g></svg></body></html>
